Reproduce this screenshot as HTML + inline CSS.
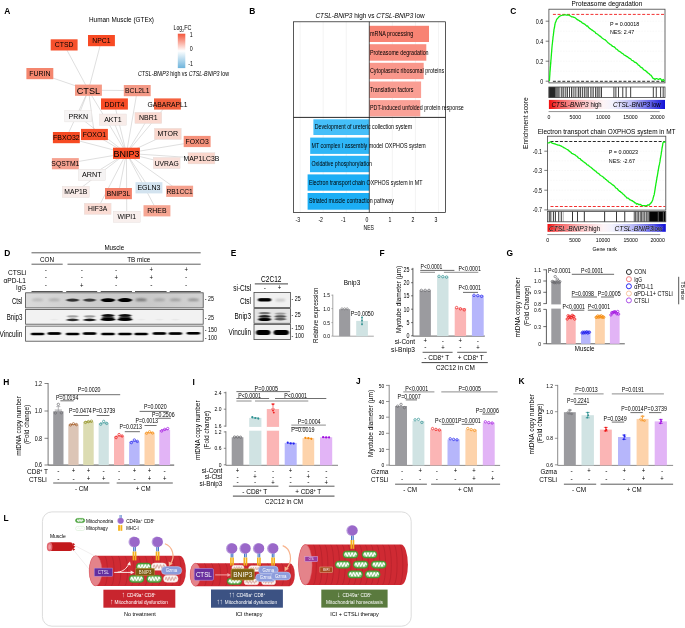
<!DOCTYPE html>
<html lang="en"><head><meta charset="utf-8"><title>CTSL-BNIP3 figure</title>
<style>
html,body{margin:0;padding:0;background:#fff;}
body{width:685px;height:628px;overflow:hidden;}
svg{display:block;font-family:"Liberation Sans",Arial,Helvetica,sans-serif;}
</style></head><body>
<svg width="685" height="628" viewBox="0 0 685 628">
<rect x="0" y="0" width="685" height="628" fill="#fff"/>
<g id="panel-A">
<text x="4.2" y="14.3" font-size="8.4" font-weight="bold" textLength="6.07" lengthAdjust="spacingAndGlyphs">A</text>
<text x="89" y="21.5" font-size="7" textLength="65" lengthAdjust="spacingAndGlyphs">Human Muscle (GTEx)</text>
<text x="173.6" y="30.2" font-size="6.5" textLength="8.6" lengthAdjust="spacingAndGlyphs">Log</text>
<text x="182.2" y="31.6" font-size="4" textLength="1.9" lengthAdjust="spacingAndGlyphs">2</text>
<text x="184.2" y="30.2" font-size="6.5" textLength="7.2" lengthAdjust="spacingAndGlyphs">FC</text>
<defs><linearGradient id="lgA" x1="0" y1="0" x2="0" y2="1"><stop offset="0" stop-color="#f4553a"/><stop offset="0.5" stop-color="#ffffff"/><stop offset="1" stop-color="#6eb4dc"/></linearGradient></defs>
<rect x="177.8" y="33.7" width="7.5" height="34.4" fill="url(#lgA)"/>
<text x="189.8" y="37" font-size="6.5" textLength="2.96" lengthAdjust="spacingAndGlyphs">1</text>
<text x="189.8" y="51" font-size="6.5" textLength="2.96" lengthAdjust="spacingAndGlyphs">0</text>
<text x="188.2" y="66.3" font-size="6.5" textLength="4.74" lengthAdjust="spacingAndGlyphs">-1</text>
<text x="138" y="76.3" font-size="6.3" textLength="91" lengthAdjust="spacingAndGlyphs"><tspan font-style="italic">CTSL-BNIP3</tspan> high vs <tspan font-style="italic">CTSL-BNIP3</tspan> low</text>
<g stroke="#bebebe" stroke-width="0.5">
<line x1="88.45" y1="90.2" x2="64.15" y2="44.9"/>
<line x1="88.45" y1="90.2" x2="101.45" y2="40.6"/>
<line x1="88.45" y1="90.2" x2="39.85" y2="73.6"/>
<line x1="88.45" y1="90.2" x2="137.25" y2="90.6"/>
<line x1="88.45" y1="90.2" x2="66.35" y2="137.6"/>
<line x1="88.45" y1="90.2" x2="94.45" y2="134.5"/>
<line x1="88.45" y1="90.2" x2="126.45" y2="153.3"/>
<line x1="88.45" y1="90.2" x2="78.25" y2="116.3"/>
<line x1="126.45" y1="153.3" x2="137.25" y2="90.6"/>
<line x1="126.45" y1="153.3" x2="114.45" y2="104"/>
<line x1="126.45" y1="153.3" x2="112.95" y2="119.6"/>
<line x1="126.45" y1="153.3" x2="148.35" y2="117.9"/>
<line x1="126.45" y1="153.3" x2="167.45" y2="104"/>
<line x1="126.45" y1="153.3" x2="167.75" y2="133.9"/>
<line x1="126.45" y1="153.3" x2="197.15" y2="141.5"/>
<line x1="126.45" y1="153.3" x2="201.45" y2="158.3"/>
<line x1="126.45" y1="153.3" x2="166.65" y2="163"/>
<line x1="126.45" y1="153.3" x2="179.65" y2="191.3"/>
<line x1="126.45" y1="153.3" x2="148.95" y2="187.8"/>
<line x1="126.45" y1="153.3" x2="156.95" y2="210.8"/>
<line x1="126.45" y1="153.3" x2="126.75" y2="216.8"/>
<line x1="126.45" y1="153.3" x2="118.45" y2="193.6"/>
<line x1="126.45" y1="153.3" x2="97.65" y2="208.8"/>
<line x1="126.45" y1="153.3" x2="91.85" y2="174.8"/>
<line x1="126.45" y1="153.3" x2="75.75" y2="191.9"/>
<line x1="126.45" y1="153.3" x2="65.35" y2="163.7"/>
<line x1="126.45" y1="153.3" x2="66.35" y2="137.6"/>
<line x1="126.45" y1="153.3" x2="94.45" y2="134.5"/>
<line x1="126.45" y1="153.3" x2="78.25" y2="116.3"/>
</g>
<rect x="50.7" y="39.3" width="26.9" height="11.2" fill="#f6512c"/>
<text x="64.15" y="47.49" font-size="7.2" text-anchor="middle" textLength="18.7" lengthAdjust="spacingAndGlyphs">CTSD</text>
<rect x="88" y="35" width="26.9" height="11.2" fill="#f84a24"/>
<text x="101.45" y="43.19" font-size="7.2" text-anchor="middle" textLength="18.2" lengthAdjust="spacingAndGlyphs">NPC1</text>
<rect x="26.4" y="68" width="26.9" height="11.2" fill="#f4866e"/>
<text x="39.85" y="76.19" font-size="7.2" text-anchor="middle" textLength="21.2" lengthAdjust="spacingAndGlyphs">FURIN</text>
<rect x="75" y="84.6" width="26.9" height="11.2" fill="#f59985"/>
<text x="88.45" y="93.66" font-size="9.6" text-anchor="middle" textLength="23.4" lengthAdjust="spacingAndGlyphs">CTSL</text>
<rect x="123.8" y="85" width="26.9" height="11.2" fill="#f49a87"/>
<text x="137.25" y="93.19" font-size="7.2" text-anchor="middle" textLength="24.5" lengthAdjust="spacingAndGlyphs">BCL2L1</text>
<rect x="101" y="98.4" width="26.9" height="11.2" fill="#f84c26"/>
<text x="114.45" y="106.59" font-size="7.2" text-anchor="middle" textLength="20" lengthAdjust="spacingAndGlyphs">DDIT4</text>
<rect x="154" y="98.4" width="26.9" height="11.2" fill="#f4623f"/>
<text x="167.45" y="106.59" font-size="7.2" text-anchor="middle" textLength="40" lengthAdjust="spacingAndGlyphs">GABARAPL1</text>
<rect x="64.8" y="110.7" width="26.9" height="11.2" fill="#f6f4f4" stroke="#e4dcda" stroke-width="0.4"/>
<text x="78.25" y="118.89" font-size="7.2" text-anchor="middle" textLength="19.4" lengthAdjust="spacingAndGlyphs">PRKN</text>
<rect x="99.5" y="114" width="26.9" height="11.2" fill="#f8ece9" stroke="#e4dcda" stroke-width="0.4"/>
<text x="112.95" y="122.19" font-size="7.2" text-anchor="middle" textLength="17.6" lengthAdjust="spacingAndGlyphs">AKT1</text>
<rect x="134.9" y="112.3" width="26.9" height="11.2" fill="#fad9d0" stroke="#e4dcda" stroke-width="0.4"/>
<text x="148.35" y="120.49" font-size="7.2" text-anchor="middle" textLength="18.6" lengthAdjust="spacingAndGlyphs">NBR1</text>
<rect x="154.3" y="128.3" width="26.9" height="11.2" fill="#f9d6cc" stroke="#e4dcda" stroke-width="0.4"/>
<text x="167.75" y="136.49" font-size="7.2" text-anchor="middle" textLength="20.6" lengthAdjust="spacingAndGlyphs">MTOR</text>
<rect x="183.7" y="135.9" width="26.9" height="11.2" fill="#f5917b"/>
<text x="197.15" y="144.09" font-size="7.2" text-anchor="middle" textLength="23.2" lengthAdjust="spacingAndGlyphs">FOXO3</text>
<rect x="81" y="128.9" width="26.9" height="11.2" fill="#f7502a"/>
<text x="94.45" y="137.09" font-size="7.2" text-anchor="middle" textLength="23.2" lengthAdjust="spacingAndGlyphs">FOXO1</text>
<rect x="52.9" y="132" width="26.9" height="11.2" fill="#f64a22"/>
<text x="66.35" y="140.19" font-size="7.2" text-anchor="middle" textLength="26.6" lengthAdjust="spacingAndGlyphs">FBXO32</text>
<rect x="113" y="147.7" width="26.9" height="11.2" fill="#f84e28"/>
<text x="126.45" y="156.76" font-size="9.6" text-anchor="middle" textLength="26" lengthAdjust="spacingAndGlyphs">BNIP3</text>
<rect x="51.9" y="158.1" width="26.9" height="11.2" fill="#f5a190"/>
<text x="65.35" y="166.29" font-size="7.2" text-anchor="middle" textLength="28" lengthAdjust="spacingAndGlyphs">SQSTM1</text>
<rect x="153.2" y="157.4" width="26.9" height="11.2" fill="#f9e0da" stroke="#e4dcda" stroke-width="0.4"/>
<text x="166.65" y="165.59" font-size="7.2" text-anchor="middle" textLength="24" lengthAdjust="spacingAndGlyphs">UVRAG</text>
<rect x="188" y="152.7" width="26.9" height="11.2" fill="#fad7cd" stroke="#e4dcda" stroke-width="0.4"/>
<text x="201.45" y="160.89" font-size="7.2" text-anchor="middle" textLength="35.8" lengthAdjust="spacingAndGlyphs">MAP1LC3B</text>
<rect x="78.4" y="169.2" width="26.9" height="11.2" fill="#f5f3f3" stroke="#e4dcda" stroke-width="0.4"/>
<text x="91.85" y="177.39" font-size="7.2" text-anchor="middle" textLength="19.6" lengthAdjust="spacingAndGlyphs">ARNT</text>
<rect x="62.3" y="186.3" width="26.9" height="11.2" fill="#f8ebe8" stroke="#e4dcda" stroke-width="0.4"/>
<text x="75.75" y="194.49" font-size="7.2" text-anchor="middle" textLength="23" lengthAdjust="spacingAndGlyphs">MAP1B</text>
<rect x="105" y="188" width="26.9" height="11.2" fill="#f3816b"/>
<text x="118.45" y="196.19" font-size="7.2" text-anchor="middle" textLength="23.6" lengthAdjust="spacingAndGlyphs">BNIP3L</text>
<rect x="135.5" y="182.2" width="26.9" height="11.2" fill="#d3e3ef"/>
<text x="148.95" y="190.39" font-size="7.2" text-anchor="middle" textLength="23" lengthAdjust="spacingAndGlyphs">EGLN3</text>
<rect x="166.2" y="185.7" width="26.9" height="11.2" fill="#f5a18e"/>
<text x="179.65" y="193.89" font-size="7.2" text-anchor="middle" textLength="26.4" lengthAdjust="spacingAndGlyphs">RB1CC1</text>
<rect x="84.2" y="203.2" width="26.9" height="11.2" fill="#fadcd4" stroke="#e4dcda" stroke-width="0.4"/>
<text x="97.65" y="211.39" font-size="7.2" text-anchor="middle" textLength="19.2" lengthAdjust="spacingAndGlyphs">HIF3A</text>
<rect x="143.5" y="205.2" width="26.9" height="11.2" fill="#f6a693"/>
<text x="156.95" y="213.39" font-size="7.2" text-anchor="middle" textLength="19.2" lengthAdjust="spacingAndGlyphs">RHEB</text>
<rect x="113.3" y="211.2" width="26.9" height="11.2" fill="#f8efed" stroke="#e4dcda" stroke-width="0.4"/>
<text x="126.75" y="219.39" font-size="7.2" text-anchor="middle" textLength="18.6" lengthAdjust="spacingAndGlyphs">WIPI1</text>
</g>
<g id="panel-B">
<text x="249.3" y="14.1" font-size="8.4" font-weight="bold" textLength="6.07" lengthAdjust="spacingAndGlyphs">B</text>
<text x="315.4" y="17.7" font-size="7.5" textLength="109.2" lengthAdjust="spacingAndGlyphs"><tspan font-style="italic">CTSL-BNIP3</tspan> high vs <tspan font-style="italic">CTSL-BNIP3</tspan> low</text>
<line x1="300.15" y1="21.8" x2="300.15" y2="212.5" stroke="#e6e6e6" stroke-width="0.5"/>
<line x1="323.2" y1="21.8" x2="323.2" y2="212.5" stroke="#e6e6e6" stroke-width="0.5"/>
<line x1="346.25" y1="21.8" x2="346.25" y2="212.5" stroke="#e6e6e6" stroke-width="0.5"/>
<line x1="392.35" y1="21.8" x2="392.35" y2="212.5" stroke="#e6e6e6" stroke-width="0.5"/>
<line x1="415.4" y1="21.8" x2="415.4" y2="212.5" stroke="#e6e6e6" stroke-width="0.5"/>
<line x1="438.45" y1="21.8" x2="438.45" y2="212.5" stroke="#e6e6e6" stroke-width="0.5"/>
<rect x="369.3" y="25.8" width="59.7" height="16.2" fill="#f88373"/>
<text x="370" y="36" font-size="6.3" textLength="43.2" lengthAdjust="spacingAndGlyphs">mRNA processing</text>
<rect x="369.3" y="44.2" width="57" height="16.5" fill="#f98e80"/>
<text x="370" y="54.55" font-size="6.3" textLength="58.6" lengthAdjust="spacingAndGlyphs">Proteasome degradation</text>
<rect x="369.3" y="62.8" width="54.4" height="16.3" fill="#f9978b"/>
<text x="370" y="73.05" font-size="6.3" textLength="74.2" lengthAdjust="spacingAndGlyphs">Cytoplasmic ribosomal proteins</text>
<rect x="369.3" y="81.5" width="51.8" height="16.5" fill="#fa9e93"/>
<text x="370" y="91.85" font-size="6.3" textLength="43.4" lengthAdjust="spacingAndGlyphs">Translation factors</text>
<rect x="369.3" y="100.1" width="51" height="16.3" fill="#faa197"/>
<text x="370" y="110.35" font-size="6.3" textLength="93.8" lengthAdjust="spacingAndGlyphs">PDT-induced unfolded protein response</text>
<rect x="313.4" y="119.3" width="55.9" height="15.7" fill="#45bff9"/>
<text x="314.7" y="129.25" font-size="6.3" textLength="97.5" lengthAdjust="spacingAndGlyphs">Development of ureteric collection system</text>
<rect x="310.2" y="137.6" width="59.1" height="16.3" fill="#2fb6f7"/>
<text x="311.5" y="147.85" font-size="6.3" textLength="114.3" lengthAdjust="spacingAndGlyphs">MT complex I assembly model OXPHOS system</text>
<rect x="310" y="155.8" width="59.3" height="16.4" fill="#2bb4f7"/>
<text x="311.5" y="166.1" font-size="6.3" textLength="60.5" lengthAdjust="spacingAndGlyphs">Oxidative phosphorylation</text>
<rect x="307.6" y="174.4" width="61.7" height="16.3" fill="#1caef5"/>
<text x="308.9" y="184.65" font-size="6.3" textLength="113.5" lengthAdjust="spacingAndGlyphs">Electron transport chain OXPHOS system in MT</text>
<rect x="307.6" y="193" width="61.7" height="16.7" fill="#1caef5"/>
<text x="308.9" y="203.45" font-size="6.3" textLength="84.9" lengthAdjust="spacingAndGlyphs">Striated muscle contraction pathway</text>
<rect x="293.6" y="21.8" width="152" height="190.7" fill="none" stroke="#111" stroke-width="0.7"/>
<line x1="293.6" y1="117.4" x2="445.6" y2="117.4" stroke="#111" stroke-width="0.9"/>
<line x1="369.3" y1="21.8" x2="369.3" y2="212.5" stroke="#111" stroke-width="0.7"/>
<text x="297.9" y="222.3" font-size="6.3" text-anchor="middle" textLength="4.59" lengthAdjust="spacingAndGlyphs">-3</text>
<text x="320.7" y="222.3" font-size="6.3" text-anchor="middle" textLength="4.59" lengthAdjust="spacingAndGlyphs">-2</text>
<text x="343.4" y="222.3" font-size="6.3" text-anchor="middle" textLength="4.59" lengthAdjust="spacingAndGlyphs">-1</text>
<text x="367" y="222.3" font-size="6.3" text-anchor="middle" textLength="2.87" lengthAdjust="spacingAndGlyphs">0</text>
<text x="389.9" y="222.3" font-size="6.3" text-anchor="middle" textLength="2.87" lengthAdjust="spacingAndGlyphs">1</text>
<text x="413" y="222.3" font-size="6.3" text-anchor="middle" textLength="2.87" lengthAdjust="spacingAndGlyphs">2</text>
<text x="435.9" y="222.3" font-size="6.3" text-anchor="middle" textLength="2.87" lengthAdjust="spacingAndGlyphs">3</text>
<text x="368.8" y="230.2" font-size="6.3" text-anchor="middle" textLength="10.4" lengthAdjust="spacingAndGlyphs">NES</text>
</g>
<g id="panel-C">
<text x="510.2" y="14" font-size="8.4" font-weight="bold" textLength="6.07" lengthAdjust="spacingAndGlyphs">C</text>
<defs><linearGradient id="lgC" x1="0" y1="0" x2="1" y2="0"><stop offset="0" stop-color="#f00f0f"/><stop offset="0.1" stop-color="#f46060"/><stop offset="0.3" stop-color="#fbc4c6"/><stop offset="0.47" stop-color="#fdf4f6"/><stop offset="0.55" stop-color="#f2f2fd"/><stop offset="0.72" stop-color="#b9b9f6"/><stop offset="0.9" stop-color="#5252e6"/><stop offset="1" stop-color="#1010d6"/></linearGradient></defs>
<text x="571.6" y="5.6" font-size="6.6" textLength="70.7" lengthAdjust="spacingAndGlyphs">Proteasome degradation</text>
<line x1="548.9" y1="21.2" x2="665" y2="21.2" stroke="#f0f0f0" stroke-width="0.5" stroke-dasharray="1.6 1.2"/>
<line x1="548.9" y1="31.2" x2="665" y2="31.2" stroke="#f0f0f0" stroke-width="0.5" stroke-dasharray="1.6 1.2"/>
<line x1="548.9" y1="41.2" x2="665" y2="41.2" stroke="#f0f0f0" stroke-width="0.5" stroke-dasharray="1.6 1.2"/>
<line x1="548.9" y1="51.2" x2="665" y2="51.2" stroke="#f0f0f0" stroke-width="0.5" stroke-dasharray="1.6 1.2"/>
<line x1="548.9" y1="61.2" x2="665" y2="61.2" stroke="#f0f0f0" stroke-width="0.5" stroke-dasharray="1.6 1.2"/>
<line x1="548.9" y1="71.2" x2="665" y2="71.2" stroke="#f0f0f0" stroke-width="0.5" stroke-dasharray="1.6 1.2"/>
<line x1="552.9" y1="14.4" x2="664.5" y2="14.4" stroke="#f01818" stroke-width="0.9" stroke-dasharray="3 1.7"/>
<line x1="552.9" y1="81.3" x2="664.5" y2="81.3" stroke="#111" stroke-width="0.9" stroke-dasharray="3 1.7"/>
<rect x="548.9" y="9.2" width="116.1" height="73.7" fill="none" stroke="#444" stroke-width="0.8"/>
<line x1="545.7" y1="21.2" x2="548.9" y2="21.2" stroke="#444" stroke-width="0.7"/>
<text x="543.3" y="23.5" font-size="6.4" text-anchor="end" textLength="7.47" lengthAdjust="spacingAndGlyphs">0.6</text>
<line x1="545.7" y1="41.2" x2="548.9" y2="41.2" stroke="#444" stroke-width="0.7"/>
<text x="543.3" y="43.5" font-size="6.4" text-anchor="end" textLength="7.47" lengthAdjust="spacingAndGlyphs">0.4</text>
<line x1="545.7" y1="61.2" x2="548.9" y2="61.2" stroke="#444" stroke-width="0.7"/>
<text x="543.3" y="63.5" font-size="6.4" text-anchor="end" textLength="7.47" lengthAdjust="spacingAndGlyphs">0.2</text>
<line x1="545.7" y1="81.2" x2="548.9" y2="81.2" stroke="#444" stroke-width="0.7"/>
<text x="543.3" y="83.5" font-size="6.4" text-anchor="end" textLength="2.99" lengthAdjust="spacingAndGlyphs">0</text>
<path d="M549.4 80.71 L549.47 80.28 L549.53 79.21 L549.6 77.8 L549.67 77 L549.73 75.96 L549.8 75.12 L549.87 74.23 L549.93 72.68 L550 71.62 L550.08 71.22 L550.17 69.85 L550.25 69.07 L550.34 67.42 L550.42 66.73 L550.51 65.9 L550.59 64.46 L550.68 63.99 L550.76 62.91 L550.85 61.16 L550.93 60.11 L551.02 59.48 L551.1 58.75 L551.18 57.27 L551.26 56.1 L551.35 55.23 L551.43 53.88 L551.51 53 L551.59 52.13 L551.67 51.14 L551.75 49.9 L551.84 48.86 L551.92 47.81 L552 46.97 L552.11 45.77 L552.23 44.49 L552.34 44.08 L552.45 42.8 L552.56 41.8 L552.67 40.37 L552.79 39.96 L552.9 38.79 L553.02 37.2 L553.14 36.37 L553.27 35.68 L553.39 34.67 L553.51 33.85 L553.63 32.44 L553.76 31.76 L553.88 30.64 L554 29.34 L554.2 28.55 L554.4 27.77 L554.6 26.73 L554.8 25.44 L555 24.49 L555.2 23.03 L555.57 22.19 L555.93 21.64 L556.3 20.33 L556.9 19.14 L557.5 18.44 L558.25 17.66 L559 16.74 L560.4 15.8 L561.45 15.5 L562.5 15.21 L563.5 15.22 L564.5 14.82 L565.5 14.85 L566.5 15.06 L567.5 14.82 L568.95 15.18 L570.4 16.06 L571.6 16.79 L572.8 16.97 L574 17.31 L575.13 17.77 L576.27 18.67 L577.4 19.69 L578.25 20.1 L579.09 20.5 L579.94 21.33 L580.78 21.41 L581.63 22.22 L582.47 23.15 L583.32 23.43 L584.16 23.92 L585.01 24.35 L585.85 25.16 L586.7 26.07 L587.54 25.97 L588.37 27.26 L589.21 27.95 L590.04 28.67 L590.88 29.21 L591.71 29.93 L592.55 30.36 L593.39 31.06 L594.22 31.62 L595.06 31.99 L595.89 33.3 L596.73 33.73 L597.56 34.1 L598.4 35 L599.2 35.6 L600 36.12 L600.8 36.73 L601.6 37.5 L602.4 38.18 L603.2 38.79 L604 39.28 L604.8 39.56 L605.6 40.33 L606.4 40.91 L607.2 41.85 L608 42.69 L608.8 43.28 L609.6 43.92 L610.4 44.57 L611.2 44.76 L612 45.87 L612.8 46.38 L613.6 46.55 L614.4 47.13 L615.2 47.77 L616 49 L616.8 49.24 L617.6 49.77 L618.4 50.82 L619.2 51.24 L620 51.66 L620.83 52.29 L621.67 53.16 L622.5 53.43 L623.33 54.08 L624.17 55 L625 55.36 L625.83 55.82 L626.67 56.51 L627.5 56.72 L628.33 57.58 L629.17 58.17 L630 58.55 L630.83 59.05 L631.67 60.25 L632.5 60.51 L633.33 60.83 L634.17 61.72 L635 62.45 L635.83 62.5 L636.67 63.18 L637.5 63.97 L638.33 65.11 L639.17 65.34 L640 66.46 L640.83 67.13 L641.67 67.7 L642.5 68.13 L643.33 69.41 L644.17 69.95 L645 70.41 L645.83 70.88 L646.67 71.92 L647.5 72.42 L648.33 73.26 L649.17 73.76 L650 74.7 L650.85 75.15 L651.7 76.24 L652.55 77.67 L653.4 78.5 L654.2 78.65 L655 79.69 L655.9 78.65 L656.8 78.55 L657.6 79 L658.4 79.33 L660.2 78.6 L661 79.21 L661.8 80.7 L663.2 79.43 L664.4 80.9" fill="none" stroke="#10ee10" stroke-width="1.3" stroke-linejoin="round" stroke-linecap="round"/>
<text x="610" y="25.5" font-size="6" textLength="29.2" lengthAdjust="spacingAndGlyphs">P = 0.00018</text>
<text x="610" y="33.6" font-size="6" textLength="24.2" lengthAdjust="spacingAndGlyphs">NES: 2.47</text>
<g stroke="#000"><line x1="549.2" y1="87" x2="549.2" y2="97.6" stroke-width="0.6" opacity="1"/><line x1="549.6" y1="87" x2="549.6" y2="97.6" stroke-width="0.6" opacity="1"/><line x1="550" y1="87" x2="550" y2="97.6" stroke-width="0.6" opacity="1"/><line x1="550.4" y1="87" x2="550.4" y2="97.6" stroke-width="0.6" opacity="1"/><line x1="550.8" y1="87" x2="550.8" y2="97.6" stroke-width="0.6" opacity="1"/><line x1="551.2" y1="87" x2="551.2" y2="97.6" stroke-width="0.6" opacity="1"/><line x1="551.6" y1="87" x2="551.6" y2="97.6" stroke-width="0.6" opacity="1"/><line x1="552" y1="87" x2="552" y2="97.6" stroke-width="0.6" opacity="1"/><line x1="552.4" y1="87" x2="552.4" y2="97.6" stroke-width="0.6" opacity="1"/><line x1="552.8" y1="87" x2="552.8" y2="97.6" stroke-width="0.6" opacity="1"/><line x1="553.2" y1="87" x2="553.2" y2="97.6" stroke-width="0.6" opacity="1"/><line x1="553.6" y1="87" x2="553.6" y2="97.6" stroke-width="0.6" opacity="1"/><line x1="554" y1="87" x2="554" y2="97.6" stroke-width="0.6" opacity="1"/><line x1="554.4" y1="87" x2="554.4" y2="97.6" stroke-width="0.6" opacity="1"/><line x1="554.8" y1="87" x2="554.8" y2="97.6" stroke-width="0.6" opacity="1"/><line x1="555.2" y1="87" x2="555.2" y2="97.6" stroke-width="0.55" opacity="0.9"/><line x1="555.9" y1="87" x2="555.9" y2="97.6" stroke-width="0.55" opacity="0.9"/><line x1="556.6" y1="87" x2="556.6" y2="97.6" stroke-width="0.55" opacity="0.9"/><line x1="557.3" y1="87" x2="557.3" y2="97.6" stroke-width="0.55" opacity="0.9"/><line x1="558" y1="87" x2="558" y2="97.6" stroke-width="0.55" opacity="0.9"/><line x1="558.7" y1="87" x2="558.7" y2="97.6" stroke-width="0.55" opacity="0.9"/><line x1="559.4" y1="87" x2="559.4" y2="97.6" stroke-width="0.55" opacity="0.9"/><line x1="561.28" y1="87" x2="561.28" y2="97.6" stroke-width="0.8" opacity="0.95"/><line x1="563.26" y1="87" x2="563.26" y2="97.6" stroke-width="0.8" opacity="0.95"/><line x1="565.23" y1="87" x2="565.23" y2="97.6" stroke-width="0.8" opacity="0.95"/><line x1="567.59" y1="87" x2="567.59" y2="97.6" stroke-width="0.8" opacity="0.95"/><line x1="569.56" y1="87" x2="569.56" y2="97.6" stroke-width="0.8" opacity="0.95"/><line x1="571.53" y1="87" x2="571.53" y2="97.6" stroke-width="0.8" opacity="0.95"/><line x1="573.9" y1="87" x2="573.9" y2="97.6" stroke-width="0.8" opacity="0.95"/><line x1="575.87" y1="87" x2="575.87" y2="97.6" stroke-width="0.8" opacity="0.95"/><line x1="578.43" y1="87" x2="578.43" y2="97.6" stroke-width="0.8" opacity="0.95"/><line x1="580.4" y1="87" x2="580.4" y2="97.6" stroke-width="0.8" opacity="0.95"/><line x1="582.37" y1="87" x2="582.37" y2="97.6" stroke-width="0.8" opacity="0.95"/><line x1="584.34" y1="87" x2="584.34" y2="97.6" stroke-width="0.8" opacity="0.95"/><line x1="586.91" y1="87" x2="586.91" y2="97.6" stroke-width="0.8" opacity="0.95"/><line x1="588.29" y1="87" x2="588.29" y2="97.6" stroke-width="0.8" opacity="0.95"/><line x1="590.85" y1="87" x2="590.85" y2="97.6" stroke-width="0.8" opacity="0.95"/><line x1="593.21" y1="87" x2="593.21" y2="97.6" stroke-width="0.8" opacity="0.95"/><line x1="595.58" y1="87" x2="595.58" y2="97.6" stroke-width="0.8" opacity="0.95"/><line x1="597.15" y1="87" x2="597.15" y2="97.6" stroke-width="0.8" opacity="0.95"/><line x1="599.12" y1="87" x2="599.12" y2="97.6" stroke-width="0.8" opacity="0.95"/><line x1="601.49" y1="87" x2="601.49" y2="97.6" stroke-width="0.8" opacity="0.95"/><line x1="613.91" y1="87" x2="613.91" y2="97.6" stroke-width="0.8" opacity="0.95"/><line x1="615.88" y1="87" x2="615.88" y2="97.6" stroke-width="0.8" opacity="0.95"/><line x1="618.44" y1="87" x2="618.44" y2="97.6" stroke-width="0.8" opacity="0.95"/><line x1="622.77" y1="87" x2="622.77" y2="97.6" stroke-width="0.8" opacity="0.95"/><line x1="626.13" y1="87" x2="626.13" y2="97.6" stroke-width="0.8" opacity="0.95"/><line x1="630.66" y1="87" x2="630.66" y2="97.6" stroke-width="0.8" opacity="0.95"/><line x1="653.32" y1="87" x2="653.32" y2="97.6" stroke-width="0.8" opacity="0.95"/><line x1="656.28" y1="87" x2="656.28" y2="97.6" stroke-width="0.8" opacity="0.95"/><line x1="660.61" y1="87" x2="660.61" y2="97.6" stroke-width="0.8" opacity="0.95"/><line x1="663.18" y1="87" x2="663.18" y2="97.6" stroke-width="0.8" opacity="0.95"/><line x1="562.27" y1="87" x2="562.27" y2="97.6" stroke-width="0.5" opacity="0.6"/><line x1="566.41" y1="87" x2="566.41" y2="97.6" stroke-width="0.5" opacity="0.6"/><line x1="572.72" y1="87" x2="572.72" y2="97.6" stroke-width="0.5" opacity="0.6"/><line x1="577.25" y1="87" x2="577.25" y2="97.6" stroke-width="0.5" opacity="0.6"/><line x1="579.42" y1="87" x2="579.42" y2="97.6" stroke-width="0.5" opacity="0.6"/><line x1="585.53" y1="87" x2="585.53" y2="97.6" stroke-width="0.5" opacity="0.6"/><line x1="592.03" y1="87" x2="592.03" y2="97.6" stroke-width="0.5" opacity="0.6"/><line x1="598.14" y1="87" x2="598.14" y2="97.6" stroke-width="0.5" opacity="0.6"/><line x1="600.31" y1="87" x2="600.31" y2="97.6" stroke-width="0.5" opacity="0.6"/></g>
<rect x="548.9" y="87" width="116.1" height="10.6" fill="none" stroke="#444" stroke-width="0.8"/>
<rect x="548.9" y="99.9" width="116.1" height="9.1" fill="url(#lgC)"/>
<text x="551.4" y="107.2" font-size="7.2" font-style="italic" textLength="37.2" lengthAdjust="spacingAndGlyphs">CTSL-BNIP3</text>
<text x="590.4" y="107.2" font-size="7.2" textLength="11.2" lengthAdjust="spacingAndGlyphs">high</text>
<text x="612.9" y="107.2" font-size="7.2" font-style="italic" textLength="37.2" lengthAdjust="spacingAndGlyphs">CTSL-BNIP3</text>
<text x="651.6" y="107.2" font-size="7.2" textLength="9" lengthAdjust="spacingAndGlyphs">low</text>
<line x1="548.6" y1="111.6" x2="659.7" y2="111.6" stroke="#444" stroke-width="0.6"/>
<text x="548.9" y="118.7" font-size="6" text-anchor="middle" textLength="2.87" lengthAdjust="spacingAndGlyphs">0</text>
<text x="575.3" y="118.7" font-size="6" text-anchor="middle" textLength="11.48" lengthAdjust="spacingAndGlyphs">5000</text>
<text x="603.2" y="118.7" font-size="6" text-anchor="middle" textLength="14.35" lengthAdjust="spacingAndGlyphs">10000</text>
<text x="630.4" y="118.7" font-size="6" text-anchor="middle" textLength="14.35" lengthAdjust="spacingAndGlyphs">15000</text>
<text x="657.4" y="118.7" font-size="6" text-anchor="middle" textLength="14.35" lengthAdjust="spacingAndGlyphs">20000</text>
<text x="527.9" y="123.2" font-size="6.5" text-anchor="middle" transform="rotate(-90 527.9 123.2)" textLength="51.6" lengthAdjust="spacingAndGlyphs">Enrichment score</text>
<text x="537.8" y="134.4" font-size="6.6" textLength="137.7" lengthAdjust="spacingAndGlyphs">Electron transport chain OXPHOS system in MT</text>
<line x1="547.5" y1="151.2" x2="665.8" y2="151.2" stroke="#f0f0f0" stroke-width="0.5" stroke-dasharray="1.6 1.2"/>
<line x1="547.5" y1="160.8" x2="665.8" y2="160.8" stroke="#f0f0f0" stroke-width="0.5" stroke-dasharray="1.6 1.2"/>
<line x1="547.5" y1="170.5" x2="665.8" y2="170.5" stroke="#f0f0f0" stroke-width="0.5" stroke-dasharray="1.6 1.2"/>
<line x1="547.5" y1="180.3" x2="665.8" y2="180.3" stroke="#f0f0f0" stroke-width="0.5" stroke-dasharray="1.6 1.2"/>
<line x1="547.5" y1="190.2" x2="665.8" y2="190.2" stroke="#f0f0f0" stroke-width="0.5" stroke-dasharray="1.6 1.2"/>
<line x1="547.5" y1="200" x2="665.8" y2="200" stroke="#f0f0f0" stroke-width="0.5" stroke-dasharray="1.6 1.2"/>
<line x1="550.5" y1="141.5" x2="665.3" y2="141.5" stroke="#111" stroke-width="0.9" stroke-dasharray="3 1.7"/>
<line x1="550.5" y1="206.5" x2="665.3" y2="206.5" stroke="#f01818" stroke-width="0.9" stroke-dasharray="3 1.7"/>
<rect x="547.5" y="136.2" width="118.3" height="73.9" fill="none" stroke="#444" stroke-width="0.8"/>
<line x1="544.3" y1="151.2" x2="547.5" y2="151.2" stroke="#444" stroke-width="0.7"/>
<text x="541.9" y="153.5" font-size="6.4" text-anchor="end" textLength="9.26" lengthAdjust="spacingAndGlyphs">-0.1</text>
<line x1="544.3" y1="170.4" x2="547.5" y2="170.4" stroke="#444" stroke-width="0.7"/>
<text x="541.9" y="172.7" font-size="6.4" text-anchor="end" textLength="9.26" lengthAdjust="spacingAndGlyphs">-0.3</text>
<line x1="544.3" y1="190.2" x2="547.5" y2="190.2" stroke="#444" stroke-width="0.7"/>
<text x="541.9" y="192.5" font-size="6.4" text-anchor="end" textLength="9.26" lengthAdjust="spacingAndGlyphs">-0.5</text>
<line x1="544.3" y1="209.9" x2="547.5" y2="209.9" stroke="#444" stroke-width="0.7"/>
<text x="541.9" y="212.2" font-size="6.4" text-anchor="end" textLength="9.26" lengthAdjust="spacingAndGlyphs">-0.7</text>
<path d="M548 142.96 L549 142.89 L550 142.11 L551 142.07 L552 143.07 L553 143.39 L554 143.74 L555 143.8 L556 144.38 L557 144.74 L558 145.06 L559.1 145.13 L560.2 145.74 L561.3 146.11 L562.4 146.78 L563.5 147.4 L564.31 147.96 L565.12 148.24 L565.94 148.76 L566.75 149.21 L567.56 149.63 L568.38 150.22 L569.19 151.17 L570 151.65 L570.85 152.28 L571.7 153.27 L572.55 153.56 L573.4 154.17 L574.25 154.49 L575.1 154.9 L575.95 155.72 L576.8 156.15 L577.65 157.03 L578.5 158 L579.32 158.38 L580.14 158.63 L580.96 159.84 L581.79 160.41 L582.61 161 L583.43 161.78 L584.25 162.31 L585.07 162.97 L585.89 163.27 L586.71 164.41 L587.54 165.04 L588.36 165.04 L589.18 166.16 L590 166.77 L590.83 167.24 L591.67 167.97 L592.5 168.62 L593.33 169.64 L594.17 169.98 L595 170.92 L595.83 171.21 L596.67 172.31 L597.5 172.99 L598.33 173.32 L599.17 174.08 L600 175.04 L600.79 175.51 L601.59 175.96 L602.38 176.38 L603.18 177.1 L603.97 178.04 L604.76 178.24 L605.56 179.47 L606.35 179.6 L607.15 180.75 L607.94 180.9 L608.74 182.05 L609.53 182.49 L610.32 182.96 L611.12 183.61 L611.91 184.35 L612.71 184.94 L613.5 185.35 L614.25 185.94 L615 186.87 L615.75 187.88 L616.5 188.31 L617.25 188.55 L618 189.82 L618.75 190.43 L619.5 191.25 L620.25 191.35 L621 192.47 L621.75 192.6 L622.5 193.76 L623.25 194.13 L624 194.77 L624.75 195.97 L625.5 196.03 L626.25 197.04 L627 197.98 L627.86 198.04 L628.73 198.56 L629.59 199.64 L630.45 199.82 L631.32 200.6 L632.18 200.6 L633.05 201.41 L633.91 201.8 L634.77 202.75 L635.64 202.82 L636.5 204.06 L637.67 203.69 L638.83 204.62 L640 204.42 L641.1 204.94 L642.2 205.72 L643.3 205.53 L644.43 205.55 L645.57 205.95 L646.7 205.71 L647.95 204.83 L649.2 204.99 L650.3 203.52 L651.4 202.63 L651.87 201.71 L652.33 200.76 L652.8 199.69 L653.12 198.07 L653.45 197.12 L653.77 195.75 L654.1 194.96 L654.27 194.19 L654.44 193.15 L654.61 192.27 L654.77 191.13 L654.94 190.2 L655.11 189.05 L655.28 187.85 L655.45 186.63 L655.62 185.96 L655.79 184.67 L655.96 183.48 L656.12 182.73 L656.29 182.06 L656.46 180.44 L656.63 179.79 L656.8 178.61 L656.98 177.72 L657.16 176.43 L657.34 176.08 L657.52 174.53 L657.69 173.81 L657.87 172.67 L658.05 171.35 L658.23 170.79 L658.41 169.46 L658.59 168.4 L658.77 167.38 L658.95 166.49 L659.13 165.45 L659.31 164.88 L659.48 163.79 L659.66 163.17 L659.84 162.14 L660.02 161.19 L660.2 159.59 L660.37 158.74 L660.54 157.56 L660.71 156.82 L660.88 155.82 L661.04 154.95 L661.21 153.86 L661.38 152.47 L661.55 151.59 L661.72 150.65 L661.89 149.22 L662.06 148.22 L662.23 147.5 L662.39 146.25 L662.56 145.72 L662.73 144.31 L662.9 143.18 L663.6 141.95 L665.2 142.2" fill="none" stroke="#10ee10" stroke-width="1.3" stroke-linejoin="round" stroke-linecap="round"/>
<text x="608.8" y="153.8" font-size="6" textLength="29.2" lengthAdjust="spacingAndGlyphs">P = 0.00023</text>
<text x="608.8" y="162.9" font-size="6" textLength="26.2" lengthAdjust="spacingAndGlyphs">NES: -2.67</text>
<g stroke="#000"><line x1="549.26" y1="211.4" x2="549.26" y2="221.8" stroke-width="0.85" opacity="0.95"/><line x1="550.84" y1="211.4" x2="550.84" y2="221.8" stroke-width="0.85" opacity="0.95"/><line x1="553.4" y1="211.4" x2="553.4" y2="221.8" stroke-width="0.85" opacity="0.95"/><line x1="555.37" y1="211.4" x2="555.37" y2="221.8" stroke-width="0.85" opacity="0.95"/><line x1="558.72" y1="211.4" x2="558.72" y2="221.8" stroke-width="0.85" opacity="0.95"/><line x1="561.28" y1="211.4" x2="561.28" y2="221.8" stroke-width="0.85" opacity="0.95"/><line x1="572.52" y1="211.4" x2="572.52" y2="221.8" stroke-width="0.85" opacity="0.95"/><line x1="577.45" y1="211.4" x2="577.45" y2="221.8" stroke-width="0.85" opacity="0.95"/><line x1="584.34" y1="211.4" x2="584.34" y2="221.8" stroke-width="0.85" opacity="0.95"/><line x1="604.64" y1="211.4" x2="604.64" y2="221.8" stroke-width="0.85" opacity="0.95"/><line x1="616.47" y1="211.4" x2="616.47" y2="221.8" stroke-width="0.85" opacity="0.95"/><line x1="624.75" y1="211.4" x2="624.75" y2="221.8" stroke-width="0.85" opacity="0.95"/><line x1="563.26" y1="211.4" x2="563.26" y2="221.8" stroke-width="0.6" opacity="0.5"/><line x1="634.21" y1="211.4" x2="634.21" y2="221.8" stroke-width="0.8" opacity="0.75"/><line x1="635.59" y1="211.4" x2="635.59" y2="221.8" stroke-width="0.8" opacity="0.75"/><line x1="636.96" y1="211.4" x2="636.96" y2="221.8" stroke-width="0.8" opacity="0.75"/><line x1="638.54" y1="211.4" x2="638.54" y2="221.8" stroke-width="0.8" opacity="0.75"/><line x1="640.12" y1="211.4" x2="640.12" y2="221.8" stroke-width="0.8" opacity="0.75"/><line x1="641.5" y1="211.4" x2="641.5" y2="221.8" stroke-width="0.8" opacity="0.75"/><line x1="642.88" y1="211.4" x2="642.88" y2="221.8" stroke-width="0.8" opacity="0.75"/><line x1="644.45" y1="211.4" x2="644.45" y2="221.8" stroke-width="0.8" opacity="0.75"/><line x1="646.42" y1="211.4" x2="646.42" y2="221.8" stroke-width="0.8" opacity="0.75"/><line x1="648" y1="211.4" x2="648" y2="221.8" stroke-width="0.8" opacity="0.75"/><line x1="634.99" y1="211.4" x2="634.99" y2="221.8" stroke-width="0.6" opacity="0.5"/><line x1="637.75" y1="211.4" x2="637.75" y2="221.8" stroke-width="0.6" opacity="0.5"/><line x1="640.71" y1="211.4" x2="640.71" y2="221.8" stroke-width="0.6" opacity="0.5"/><line x1="643.67" y1="211.4" x2="643.67" y2="221.8" stroke-width="0.6" opacity="0.5"/><line x1="645.44" y1="211.4" x2="645.44" y2="221.8" stroke-width="0.6" opacity="0.5"/><line x1="647.21" y1="211.4" x2="647.21" y2="221.8" stroke-width="0.6" opacity="0.5"/><line x1="648.59" y1="211.4" x2="648.59" y2="221.8" stroke-width="0.6" opacity="0.5"/></g>
<rect x="649.18" y="211.4" width="16.42" height="10.4" fill="#050505"/>
<line x1="658.25" y1="211.4" x2="658.25" y2="221.8" stroke="#fff" stroke-width="0.35"/>
<line x1="663.37" y1="211.4" x2="663.37" y2="221.8" stroke="#fff" stroke-width="0.35"/>
<rect x="547.5" y="211.4" width="118.3" height="10.4" fill="none" stroke="#444" stroke-width="0.8"/>
<rect x="547.5" y="224" width="118.3" height="7.8" fill="url(#lgC)"/>
<text stroke="#fff" stroke-width="0.5" stroke-opacity="0.55" paint-order="stroke" x="548.9" y="231" font-size="7.8" font-style="italic" textLength="38.6" lengthAdjust="spacingAndGlyphs">CTSL-BNIP3</text>
<text x="588.6" y="231" font-size="7.8" textLength="11.4" lengthAdjust="spacingAndGlyphs">high</text>
<text stroke="#fff" stroke-width="0.5" stroke-opacity="0.55" paint-order="stroke" x="614.5" y="231" font-size="7.8" font-style="italic" textLength="38.6" lengthAdjust="spacingAndGlyphs">CTSL-BNIP3</text>
<text stroke="#fff" stroke-width="0.5" stroke-opacity="0.55" paint-order="stroke" x="653.2" y="231" font-size="7.8" textLength="9.2" lengthAdjust="spacingAndGlyphs">low</text>
<line x1="547.3" y1="234.6" x2="660.2" y2="234.6" stroke="#444" stroke-width="0.6"/>
<text x="547.8" y="242.3" font-size="6" text-anchor="middle" textLength="2.87" lengthAdjust="spacingAndGlyphs">0</text>
<text x="575" y="242.3" font-size="6" text-anchor="middle" textLength="11.48" lengthAdjust="spacingAndGlyphs">5000</text>
<text x="603" y="242.3" font-size="6" text-anchor="middle" textLength="14.35" lengthAdjust="spacingAndGlyphs">10000</text>
<text x="630.6" y="242.3" font-size="6" text-anchor="middle" textLength="14.35" lengthAdjust="spacingAndGlyphs">15000</text>
<text x="657.6" y="242.3" font-size="6" text-anchor="middle" textLength="14.35" lengthAdjust="spacingAndGlyphs">20000</text>
<text x="592.4" y="251.4" font-size="6" textLength="24.6" lengthAdjust="spacingAndGlyphs">Gene rank</text>
</g>
<g id="panel-D">
<defs><filter id="bl1" x="-30%" y="-80%" width="160%" height="260%"><feGaussianBlur stdDeviation="1.1 0.6"/></filter><filter id="bl2" x="-30%" y="-80%" width="160%" height="260%"><feGaussianBlur stdDeviation="1.3 0.9"/></filter></defs>
<text x="4.3" y="256.1" font-size="8.4" font-weight="bold" textLength="6.07" lengthAdjust="spacingAndGlyphs">D</text>
<text x="104.4" y="250.4" font-size="7.9" textLength="19.8" lengthAdjust="spacingAndGlyphs">Muscle</text>
<line x1="31.5" y1="252.8" x2="200.7" y2="252.8" stroke="#606060" stroke-width="1"/>
<text x="40" y="261.8" font-size="7.9" textLength="14" lengthAdjust="spacingAndGlyphs">CON</text>
<text x="127.2" y="261.8" font-size="7.9" textLength="23.1" lengthAdjust="spacingAndGlyphs">TB mice</text>
<line x1="31.5" y1="264.2" x2="62.7" y2="264.2" stroke="#606060" stroke-width="1"/>
<line x1="67.5" y1="264.2" x2="200.7" y2="264.2" stroke="#606060" stroke-width="1"/>
<text x="7.9" y="274.9" font-size="7.9" textLength="18.4" lengthAdjust="spacingAndGlyphs">CTSLi</text>
<text x="3.5" y="282.8" font-size="7.9" textLength="22.5" lengthAdjust="spacingAndGlyphs">αPD-L1</text>
<text x="16.1" y="290.2" font-size="7.9" textLength="9.9" lengthAdjust="spacingAndGlyphs">IgG</text>
<text x="45.9" y="271.5" font-size="6.6" text-anchor="middle" textLength="2.2" lengthAdjust="spacingAndGlyphs">-</text>
<text x="81.8" y="271.5" font-size="6.6" text-anchor="middle" textLength="2.2" lengthAdjust="spacingAndGlyphs">-</text>
<text x="116.2" y="271.5" font-size="6.6" text-anchor="middle" textLength="2.2" lengthAdjust="spacingAndGlyphs">-</text>
<text x="151.3" y="271.7" font-size="6.6" text-anchor="middle" textLength="3.47" lengthAdjust="spacingAndGlyphs">+</text>
<text x="186.2" y="271.7" font-size="6.6" text-anchor="middle" textLength="3.47" lengthAdjust="spacingAndGlyphs">+</text>
<text x="45.9" y="279.4" font-size="6.6" text-anchor="middle" textLength="2.2" lengthAdjust="spacingAndGlyphs">-</text>
<text x="81.8" y="279.4" font-size="6.6" text-anchor="middle" textLength="2.2" lengthAdjust="spacingAndGlyphs">-</text>
<text x="116.2" y="279.6" font-size="6.6" text-anchor="middle" textLength="3.47" lengthAdjust="spacingAndGlyphs">+</text>
<text x="151.3" y="279.6" font-size="6.6" text-anchor="middle" textLength="3.47" lengthAdjust="spacingAndGlyphs">+</text>
<text x="186.2" y="279.4" font-size="6.6" text-anchor="middle" textLength="2.2" lengthAdjust="spacingAndGlyphs">-</text>
<text x="45.9" y="287.4" font-size="6.6" text-anchor="middle" textLength="2.2" lengthAdjust="spacingAndGlyphs">-</text>
<text x="81.8" y="287.6" font-size="6.6" text-anchor="middle" textLength="3.47" lengthAdjust="spacingAndGlyphs">+</text>
<text x="116.2" y="287.4" font-size="6.6" text-anchor="middle" textLength="2.2" lengthAdjust="spacingAndGlyphs">-</text>
<text x="151.3" y="287.4" font-size="6.6" text-anchor="middle" textLength="2.2" lengthAdjust="spacingAndGlyphs">-</text>
<text x="186.2" y="287.4" font-size="6.6" text-anchor="middle" textLength="2.2" lengthAdjust="spacingAndGlyphs">-</text>
<line x1="31.5" y1="291.5" x2="62.7" y2="291.5" stroke="#555" stroke-width="1"/>
<line x1="66.2" y1="291.5" x2="97.2" y2="291.5" stroke="#555" stroke-width="1"/>
<line x1="100.7" y1="291.5" x2="132" y2="291.5" stroke="#555" stroke-width="1"/>
<line x1="135" y1="291.5" x2="166.6" y2="291.5" stroke="#555" stroke-width="1"/>
<line x1="169.7" y1="291.5" x2="200.7" y2="291.5" stroke="#555" stroke-width="1"/>
<defs><linearGradient id="lgD" x1="0" y1="0" x2="1" y2="0"><stop offset="0" stop-color="#dadada"/><stop offset="0.35" stop-color="#cdcdcd"/><stop offset="0.7" stop-color="#c9c9c9"/><stop offset="1" stop-color="#d2d2d2"/></linearGradient></defs>
<rect x="25.6" y="292.8" width="177.6" height="15.1" fill="url(#lgD)" stroke="#4a4a4a" stroke-width="0.8"/>
<rect x="25.6" y="309.5" width="177.6" height="14.7" fill="#f2f2f2" stroke="#4a4a4a" stroke-width="0.8"/>
<rect x="25.6" y="326.1" width="177.6" height="15.1" fill="#f4f4f4" stroke="#4a4a4a" stroke-width="0.8"/>
<ellipse cx="37.6" cy="299.8" rx="6" ry="1.3" fill="#000" opacity="0.16000000000000003" filter="url(#bl2)"/>
<ellipse cx="54.2" cy="299.8" rx="6" ry="1.3" fill="#000" opacity="0.192" filter="url(#bl2)"/>
<ellipse cx="72.6" cy="300.1" rx="6.41" ry="1.66" fill="#000" opacity="0.759" filter="url(#bl1)"/>
<ellipse cx="89.6" cy="300.1" rx="6.33" ry="1.62" fill="#000" opacity="0.713" filter="url(#bl1)"/>
<ellipse cx="108" cy="300.1" rx="6.91" ry="1.95" fill="#000" opacity="1" filter="url(#bl1)"/>
<ellipse cx="108" cy="300.1" rx="5.91" ry="1.46" fill="#000" opacity="0.95" filter="url(#bl1)"/>
<ellipse cx="125" cy="300.1" rx="7" ry="2" fill="#000" opacity="1" filter="url(#bl1)"/>
<ellipse cx="125" cy="300.1" rx="6" ry="1.5" fill="#000" opacity="0.95" filter="url(#bl1)"/>
<ellipse cx="141.2" cy="299.8" rx="6" ry="1.3" fill="#000" opacity="0.48" filter="url(#bl2)"/>
<ellipse cx="159.4" cy="299.8" rx="6" ry="1.3" fill="#000" opacity="0.20800000000000002" filter="url(#bl2)"/>
<ellipse cx="175.4" cy="299.8" rx="6" ry="1.3" fill="#000" opacity="0.256" filter="url(#bl2)"/>
<ellipse cx="193.4" cy="299.8" rx="6" ry="1.3" fill="#000" opacity="0.32000000000000006" filter="url(#bl2)"/>
<ellipse cx="54.2" cy="319.6" rx="4" ry="0.8" fill="#000" opacity="0.03" filter="url(#bl1)"/>
<ellipse cx="72.6" cy="316.4" rx="5.5" ry="1.1" fill="#000" opacity="0.33" filter="url(#bl1)"/>
<ellipse cx="72.6" cy="319.9" rx="6.25" ry="1.3" fill="#000" opacity="0.8250000000000001" filter="url(#bl1)"/>
<ellipse cx="89.6" cy="316.4" rx="5.5" ry="1.1" fill="#000" opacity="0.36" filter="url(#bl1)"/>
<ellipse cx="89.6" cy="319.9" rx="6.25" ry="1.3" fill="#000" opacity="0.8999999999999999" filter="url(#bl1)"/>
<ellipse cx="108" cy="315.4" rx="6.5" ry="1.4" fill="#000" opacity="0.95" filter="url(#bl1)"/>
<ellipse cx="108" cy="319.4" rx="7.25" ry="1.7" fill="#000" opacity="1.0" filter="url(#bl1)"/>
<ellipse cx="108" cy="319.4" rx="6.25" ry="1.3" fill="#000" opacity="1.0" filter="url(#bl1)"/>
<ellipse cx="108" cy="317.4" rx="6" ry="1.2" fill="#000" opacity="0.75" filter="url(#bl1)"/>
<ellipse cx="125" cy="315.4" rx="6.5" ry="1.4" fill="#000" opacity="0.95" filter="url(#bl1)"/>
<ellipse cx="125" cy="319.4" rx="7.25" ry="1.7" fill="#000" opacity="1.0" filter="url(#bl1)"/>
<ellipse cx="125" cy="319.4" rx="6.25" ry="1.3" fill="#000" opacity="1.0" filter="url(#bl1)"/>
<ellipse cx="125" cy="317.4" rx="6" ry="1.2" fill="#000" opacity="0.75" filter="url(#bl1)"/>
<ellipse cx="141.2" cy="319.6" rx="4" ry="0.8" fill="#000" opacity="0.03" filter="url(#bl1)"/>
<ellipse cx="159.4" cy="319.6" rx="4" ry="0.8" fill="#000" opacity="0.04" filter="url(#bl1)"/>
<ellipse cx="175.4" cy="319.6" rx="4" ry="0.8" fill="#000" opacity="0.04" filter="url(#bl1)"/>
<rect x="31.1" y="332.7" width="13" height="2.5" rx="1.25" fill="#000" opacity="1.0" filter="url(#bl1)"/>
<rect x="32.1" y="333.05" width="11" height="1.8" rx="0.9" fill="#000" opacity="0.95" filter="url(#bl1)"/>
<rect x="47.7" y="332.25" width="13" height="2.5" rx="1.25" fill="#000" opacity="1.0" filter="url(#bl1)"/>
<rect x="48.7" y="332.6" width="11" height="1.8" rx="0.9" fill="#000" opacity="0.95" filter="url(#bl1)"/>
<rect x="66.1" y="332.65" width="13" height="2.5" rx="1.25" fill="#000" opacity="1.0" filter="url(#bl1)"/>
<rect x="67.1" y="333" width="11" height="1.8" rx="0.9" fill="#000" opacity="0.95" filter="url(#bl1)"/>
<rect x="83.1" y="332.35" width="13" height="2.5" rx="1.25" fill="#000" opacity="1.0" filter="url(#bl1)"/>
<rect x="84.1" y="332.7" width="11" height="1.8" rx="0.9" fill="#000" opacity="0.95" filter="url(#bl1)"/>
<rect x="101.5" y="332.85" width="13" height="2.5" rx="1.25" fill="#000" opacity="1.0" filter="url(#bl1)"/>
<rect x="102.5" y="333.2" width="11" height="1.8" rx="0.9" fill="#000" opacity="0.95" filter="url(#bl1)"/>
<rect x="118.5" y="332.65" width="13" height="2.5" rx="1.25" fill="#000" opacity="1.0" filter="url(#bl1)"/>
<rect x="119.5" y="333" width="11" height="1.8" rx="0.9" fill="#000" opacity="0.95" filter="url(#bl1)"/>
<rect x="134.7" y="332.85" width="13" height="2.5" rx="1.25" fill="#000" opacity="1.0" filter="url(#bl1)"/>
<rect x="135.7" y="333.2" width="11" height="1.8" rx="0.9" fill="#000" opacity="0.95" filter="url(#bl1)"/>
<rect x="152.9" y="332.15" width="13" height="2.5" rx="1.25" fill="#000" opacity="1.0" filter="url(#bl1)"/>
<rect x="153.9" y="332.5" width="11" height="1.8" rx="0.9" fill="#000" opacity="0.95" filter="url(#bl1)"/>
<rect x="168.9" y="332.35" width="13" height="2.5" rx="1.25" fill="#000" opacity="1.0" filter="url(#bl1)"/>
<rect x="169.9" y="332.7" width="11" height="1.8" rx="0.9" fill="#000" opacity="0.95" filter="url(#bl1)"/>
<rect x="186.9" y="332.05" width="13" height="2.5" rx="1.25" fill="#000" opacity="1.0" filter="url(#bl1)"/>
<rect x="187.9" y="332.4" width="11" height="1.8" rx="0.9" fill="#000" opacity="0.95" filter="url(#bl1)"/>
<text x="11.9" y="303.8" font-size="8.5" textLength="10.5" lengthAdjust="spacingAndGlyphs">Ctsl</text>
<text x="6.7" y="319.9" font-size="8.5" textLength="15.7" lengthAdjust="spacingAndGlyphs">Bnip3</text>
<text x="-0.6" y="337" font-size="8.5" textLength="23" lengthAdjust="spacingAndGlyphs">Vinculin</text>
<text x="204.8" y="301.2" font-size="6.4" textLength="9.2" lengthAdjust="spacingAndGlyphs">- 25</text>
<text x="204.8" y="319.6" font-size="6.4" textLength="9.2" lengthAdjust="spacingAndGlyphs">- 25</text>
<text x="204.8" y="331.6" font-size="6.4" textLength="12.3" lengthAdjust="spacingAndGlyphs">- 150</text>
<text x="204.8" y="340.3" font-size="6.4" textLength="12.3" lengthAdjust="spacingAndGlyphs">- 100</text>
</g>
<g id="panel-E">
<text x="230.8" y="256" font-size="8.4" font-weight="bold" textLength="5.6" lengthAdjust="spacingAndGlyphs">E</text>
<text x="261.1" y="281.8" font-size="8.3" textLength="20.3" lengthAdjust="spacingAndGlyphs">C2C12</text>
<line x1="254.8" y1="283.9" x2="288" y2="283.9" stroke="#6a6a6a" stroke-width="1.3"/>
<text x="233.2" y="290.7" font-size="8.2" textLength="18.1" lengthAdjust="spacingAndGlyphs">si-Ctsl</text>
<text x="264.8" y="290.2" font-size="6.6" text-anchor="middle" textLength="2.2" lengthAdjust="spacingAndGlyphs">-</text>
<text x="279.6" y="290.2" font-size="6.6" text-anchor="middle" textLength="3.47" lengthAdjust="spacingAndGlyphs">+</text>
<rect x="254" y="292.5" width="36.5" height="15" fill="#f0f0f0" stroke="#4a4a4a" stroke-width="0.8"/>
<rect x="254" y="308.6" width="36.5" height="14.7" fill="#e4e4e4" stroke="#4a4a4a" stroke-width="0.8"/>
<rect x="254" y="324.5" width="36.5" height="15.1" fill="#f1f1f1" stroke="#4a4a4a" stroke-width="0.8"/>
<rect x="258.1" y="298.2" width="13" height="3.2" rx="1.6" fill="#000" opacity="1.0" filter="url(#bl1)"/>
<rect x="259.35" y="298.6" width="10.5" height="2.4" rx="1.2" fill="#000" opacity="0.95" filter="url(#bl1)"/>
<ellipse cx="280.4" cy="300.2" rx="5" ry="1.1" fill="#000" opacity="0.2" filter="url(#bl2)"/>
<ellipse cx="264.6" cy="313.2" rx="5.5" ry="1.1" fill="#000" opacity="0.5" filter="url(#bl1)"/>
<ellipse cx="264.6" cy="316.3" rx="6" ry="1.3" fill="#000" opacity="0.8" filter="url(#bl1)"/>
<ellipse cx="264.6" cy="319.5" rx="6.5" ry="1.6" fill="#000" opacity="1.0" filter="url(#bl1)"/>
<ellipse cx="264.6" cy="317.8" rx="6" ry="2" fill="#000" opacity="0.35" filter="url(#bl2)"/>
<ellipse cx="280.4" cy="313.6" rx="5.25" ry="1" fill="#000" opacity="0.3" filter="url(#bl1)"/>
<ellipse cx="280.4" cy="316.4" rx="5.75" ry="1.2" fill="#000" opacity="0.55" filter="url(#bl1)"/>
<ellipse cx="280.4" cy="319.2" rx="5.75" ry="1.2" fill="#000" opacity="0.55" filter="url(#bl1)"/>
<ellipse cx="280.4" cy="317" rx="5.5" ry="2.5" fill="#000" opacity="0.2" filter="url(#bl2)"/>
<rect x="256.3" y="329.9" width="13.8" height="5" rx="2.5" fill="#000" opacity="1.0" filter="url(#bl1)"/>
<rect x="257.05" y="330.4" width="12.3" height="4" rx="2" fill="#000" opacity="1.0" filter="url(#bl1)"/>
<rect x="273.9" y="329.9" width="14.6" height="5" rx="2.5" fill="#000" opacity="1.0" filter="url(#bl1)"/>
<rect x="274.65" y="330.4" width="13.1" height="4" rx="2" fill="#000" opacity="1.0" filter="url(#bl1)"/>
<text x="239.9" y="303.8" font-size="8.5" textLength="11.1" lengthAdjust="spacingAndGlyphs">Ctsl</text>
<text x="234.5" y="319.2" font-size="8.5" textLength="16.5" lengthAdjust="spacingAndGlyphs">Bnip3</text>
<text x="228.6" y="335" font-size="8.5" textLength="22.4" lengthAdjust="spacingAndGlyphs">Vinculin</text>
<text x="291.6" y="300.8" font-size="6.4" textLength="9.2" lengthAdjust="spacingAndGlyphs">- 25</text>
<text x="291.6" y="317.2" font-size="6.4" textLength="9.2" lengthAdjust="spacingAndGlyphs">- 25</text>
<text x="291.6" y="329.6" font-size="6.4" textLength="12.3" lengthAdjust="spacingAndGlyphs">- 150</text>
<text x="291.6" y="338.2" font-size="6.4" textLength="12.3" lengthAdjust="spacingAndGlyphs">- 100</text>
<text x="343.8" y="285" font-size="7.9" textLength="16.4" lengthAdjust="spacingAndGlyphs">Bnip3</text>
<line x1="332.8" y1="294.6" x2="332.8" y2="336.2" stroke="#8a8a8a" stroke-width="0.75"/>
<line x1="332.8" y1="336.2" x2="373.8" y2="336.2" stroke="#8a8a8a" stroke-width="0.75"/>
<line x1="331.4" y1="295.2" x2="332.8" y2="295.2" stroke="#8a8a8a" stroke-width="0.68"/>
<text x="330.1" y="297.32" font-size="5.9" text-anchor="end" textLength="6.89" lengthAdjust="spacingAndGlyphs">1.5</text>
<line x1="331.4" y1="308.6" x2="332.8" y2="308.6" stroke="#8a8a8a" stroke-width="0.68"/>
<text x="330.1" y="310.72" font-size="5.9" text-anchor="end" textLength="6.89" lengthAdjust="spacingAndGlyphs">1.0</text>
<line x1="331.4" y1="322.6" x2="332.8" y2="322.6" stroke="#8a8a8a" stroke-width="0.68"/>
<text x="330.1" y="324.72" font-size="5.9" text-anchor="end" textLength="6.89" lengthAdjust="spacingAndGlyphs">0.5</text>
<line x1="331.4" y1="336.1" x2="332.8" y2="336.1" stroke="#8a8a8a" stroke-width="0.68"/>
<text x="330.1" y="338.22" font-size="5.9" text-anchor="end" textLength="6.89" lengthAdjust="spacingAndGlyphs">0.0</text>
<rect x="339.1" y="309.2" width="11.1" height="27" fill="#9b9b9f"/>
<rect x="356.2" y="320.9" width="11.7" height="15.3" fill="#d0e3e3"/>
<circle cx="342" cy="308.8" r="1.05" fill="none" stroke="#707074" stroke-width="0.6"/>
<circle cx="344.6" cy="308.8" r="1.05" fill="none" stroke="#707074" stroke-width="0.6"/>
<circle cx="347.2" cy="308.8" r="1.05" fill="none" stroke="#707074" stroke-width="0.6"/>
<line x1="362" y1="316.6" x2="362" y2="325.2" stroke="#3f9999" stroke-width="0.6"/>
<circle cx="362" cy="317.4" r="1" fill="#3f9999"/>
<circle cx="362" cy="320.6" r="1" fill="#3f9999"/>
<circle cx="362" cy="324.2" r="1" fill="#3f9999"/>
<text x="350.8" y="316" font-size="6.5" textLength="23" lengthAdjust="spacingAndGlyphs">P=0.0050</text>
<text x="317.6" y="315.2" font-size="7.9" text-anchor="middle" transform="rotate(-90 317.6 315.2)" textLength="55.5" lengthAdjust="spacingAndGlyphs">Relative expression</text>
</g>
<g id="panel-F">
<text x="379.4" y="256.4" font-size="8.4" font-weight="bold" textLength="5.13" lengthAdjust="spacingAndGlyphs">F</text>
<line x1="412.9" y1="267.9" x2="412.9" y2="336.1" stroke="#333" stroke-width="0.8"/>
<line x1="412.9" y1="336.1" x2="484.8" y2="336.1" stroke="#333" stroke-width="0.8"/>
<line x1="411.1" y1="269.2" x2="412.9" y2="269.2" stroke="#333" stroke-width="0.72"/>
<text x="409.5" y="271.61" font-size="6.7" text-anchor="end" textLength="5.96" lengthAdjust="spacingAndGlyphs">25</text>
<line x1="411.1" y1="282.7" x2="412.9" y2="282.7" stroke="#333" stroke-width="0.72"/>
<text x="409.5" y="285.11" font-size="6.7" text-anchor="end" textLength="5.96" lengthAdjust="spacingAndGlyphs">20</text>
<line x1="411.1" y1="295.8" x2="412.9" y2="295.8" stroke="#333" stroke-width="0.72"/>
<text x="409.5" y="298.21" font-size="6.7" text-anchor="end" textLength="5.96" lengthAdjust="spacingAndGlyphs">15</text>
<line x1="411.1" y1="309.2" x2="412.9" y2="309.2" stroke="#333" stroke-width="0.72"/>
<text x="409.5" y="311.61" font-size="6.7" text-anchor="end" textLength="5.96" lengthAdjust="spacingAndGlyphs">10</text>
<line x1="411.1" y1="322.6" x2="412.9" y2="322.6" stroke="#333" stroke-width="0.72"/>
<text x="409.5" y="325.01" font-size="6.7" text-anchor="end" textLength="2.98" lengthAdjust="spacingAndGlyphs">5</text>
<line x1="411.1" y1="335.8" x2="412.9" y2="335.8" stroke="#333" stroke-width="0.72"/>
<text x="409.5" y="338.21" font-size="6.7" text-anchor="end" textLength="2.98" lengthAdjust="spacingAndGlyphs">0</text>
<rect x="419.5" y="290.5" width="11.4" height="45.6" fill="#9b9b9f"/>
<circle cx="421.4" cy="290.4" r="1.25" fill="none" stroke="#6c6c70" stroke-width="0.7"/><circle cx="425.2" cy="290.4" r="1.25" fill="none" stroke="#6c6c70" stroke-width="0.7"/><circle cx="429" cy="290.4" r="1.25" fill="none" stroke="#6c6c70" stroke-width="0.7"/>
<rect x="437.1" y="276.6" width="11.4" height="59.5" fill="#d0e3e3"/>
<circle cx="439" cy="276.3" r="1.25" fill="none" stroke="#2f9292" stroke-width="0.7"/><circle cx="442.8" cy="276.7" r="1.25" fill="none" stroke="#2f9292" stroke-width="0.7"/><circle cx="446.6" cy="277.1" r="1.25" fill="none" stroke="#2f9292" stroke-width="0.7"/>
<rect x="454.7" y="308.1" width="11.4" height="28" fill="#fbb5b5"/>
<circle cx="456.6" cy="307.6" r="1.25" fill="none" stroke="#ee1515" stroke-width="0.7"/><circle cx="460.4" cy="308.8" r="1.25" fill="none" stroke="#ee1515" stroke-width="0.7"/><circle cx="464.2" cy="309.8" r="1.25" fill="none" stroke="#ee1515" stroke-width="0.7"/>
<rect x="471.9" y="295.3" width="11.8" height="40.8" fill="#b6b6fb"/>
<circle cx="474" cy="295.3" r="1.25" fill="none" stroke="#2222ee" stroke-width="0.7"/><circle cx="477.8" cy="295.6" r="1.25" fill="none" stroke="#2222ee" stroke-width="0.7"/><circle cx="481.6" cy="296.3" r="1.25" fill="none" stroke="#2222ee" stroke-width="0.7"/>
<text x="400.7" y="299.4" font-size="7.9" text-anchor="middle" transform="rotate(-90 400.7 299.4)" textLength="67" lengthAdjust="spacingAndGlyphs">Myotube diameter (µm)</text>
<text x="420.6" y="268.9" font-size="6.5" textLength="21.8" lengthAdjust="spacingAndGlyphs">P&lt;0.0001</text>
<line x1="420.2" y1="270.4" x2="454.4" y2="270.4" stroke="#444" stroke-width="0.8"/>
<line x1="420.2" y1="272.3" x2="435" y2="272.3" stroke="#808080" stroke-width="0.9"/>
<line x1="443.9" y1="272.3" x2="478.3" y2="272.3" stroke="#808080" stroke-width="0.9"/>
<text x="458.4" y="270.9" font-size="6.5" textLength="22.4" lengthAdjust="spacingAndGlyphs">P&lt;0.0001</text>
<text x="458.6" y="290.4" font-size="6.5" textLength="22.4" lengthAdjust="spacingAndGlyphs">P&lt;0.0001</text>
<line x1="463" y1="292.4" x2="478" y2="292.4" stroke="#444" stroke-width="0.8"/>
<text x="394.7" y="343.9" font-size="7.9" textLength="20.3" lengthAdjust="spacingAndGlyphs">si-Cont</text>
<text x="391.1" y="351.5" font-size="7.9" textLength="23.9" lengthAdjust="spacingAndGlyphs">si-Bnip3</text>
<text x="425.3" y="343.3" font-size="6.6" text-anchor="middle" textLength="3.47" lengthAdjust="spacingAndGlyphs">+</text>
<text x="442.9" y="343.1" font-size="6.6" text-anchor="middle" textLength="2.2" lengthAdjust="spacingAndGlyphs">-</text>
<text x="460.3" y="343.3" font-size="6.6" text-anchor="middle" textLength="3.47" lengthAdjust="spacingAndGlyphs">+</text>
<text x="477.9" y="343.1" font-size="6.6" text-anchor="middle" textLength="2.2" lengthAdjust="spacingAndGlyphs">-</text>
<text x="425.3" y="349.3" font-size="6.6" text-anchor="middle" textLength="2.2" lengthAdjust="spacingAndGlyphs">-</text>
<text x="442.9" y="349.5" font-size="6.6" text-anchor="middle" textLength="3.47" lengthAdjust="spacingAndGlyphs">+</text>
<text x="460.3" y="349.3" font-size="6.6" text-anchor="middle" textLength="2.2" lengthAdjust="spacingAndGlyphs">-</text>
<text x="477.9" y="349.5" font-size="6.6" text-anchor="middle" textLength="3.47" lengthAdjust="spacingAndGlyphs">+</text>
<line x1="422.6" y1="352.3" x2="452.6" y2="352.3" stroke="#5c5c5c" stroke-width="1"/>
<line x1="457.2" y1="352.3" x2="486.8" y2="352.3" stroke="#5c5c5c" stroke-width="1"/>
<text x="424.3" y="360.3" font-size="7.9" textLength="24.8" lengthAdjust="spacingAndGlyphs">- CD8<tspan font-size="4.74" dy="-2.4">+</tspan><tspan dy="2.4"> T</tspan></text>
<text x="457.8" y="360.3" font-size="7.9" textLength="25.9" lengthAdjust="spacingAndGlyphs">+ CD8<tspan font-size="4.74" dy="-2.4">+</tspan><tspan dy="2.4"> T</tspan></text>
<line x1="421.6" y1="362.6" x2="487.8" y2="362.6" stroke="#444" stroke-width="1"/>
<text x="436.1" y="370.4" font-size="7.9" textLength="38.7" lengthAdjust="spacingAndGlyphs">C2C12 in CM</text>
</g>
<g id="panel-G">
<text x="506.6" y="256.3" font-size="8.4" font-weight="bold" textLength="6.53" lengthAdjust="spacingAndGlyphs">G</text>
<line x1="546.4" y1="269.4" x2="546.4" y2="303.9" stroke="#333" stroke-width="0.8"/>
<line x1="546.4" y1="309.3" x2="546.4" y2="343.8" stroke="#333" stroke-width="0.8"/>
<line x1="546.4" y1="343.8" x2="624.8" y2="343.8" stroke="#333" stroke-width="0.8"/>
<line x1="543.3" y1="269.8" x2="546.4" y2="269.8" stroke="#333" stroke-width="0.72"/>
<text x="540.9" y="271.92" font-size="5.9" text-anchor="end" textLength="6.89" lengthAdjust="spacingAndGlyphs">1.1</text>
<line x1="543.3" y1="281" x2="546.4" y2="281" stroke="#333" stroke-width="0.72"/>
<text x="540.9" y="283.12" font-size="5.9" text-anchor="end" textLength="6.89" lengthAdjust="spacingAndGlyphs">1.0</text>
<line x1="543.3" y1="292.3" x2="546.4" y2="292.3" stroke="#333" stroke-width="0.72"/>
<text x="540.9" y="294.42" font-size="5.9" text-anchor="end" textLength="6.89" lengthAdjust="spacingAndGlyphs">0.9</text>
<line x1="543.3" y1="303.6" x2="546.4" y2="303.6" stroke="#333" stroke-width="0.72"/>
<text x="540.9" y="305.72" font-size="5.9" text-anchor="end" textLength="6.89" lengthAdjust="spacingAndGlyphs">0.8</text>
<line x1="543.3" y1="309.4" x2="546.4" y2="309.4" stroke="#333" stroke-width="0.72"/>
<text x="540.9" y="311.52" font-size="5.9" text-anchor="end" textLength="6.89" lengthAdjust="spacingAndGlyphs">0.6</text>
<line x1="543.3" y1="326.6" x2="546.4" y2="326.6" stroke="#333" stroke-width="0.72"/>
<text x="540.9" y="328.72" font-size="5.9" text-anchor="end" textLength="6.89" lengthAdjust="spacingAndGlyphs">0.3</text>
<line x1="543.3" y1="343.7" x2="546.4" y2="343.7" stroke="#333" stroke-width="0.72"/>
<text x="540.9" y="345.82" font-size="5.9" text-anchor="end" textLength="2.76" lengthAdjust="spacingAndGlyphs">0</text>
<rect x="551.3" y="281.5" width="9.5" height="62.3" fill="#9b9b9f"/>
<rect x="566.2" y="317.9" width="9.5" height="25.9" fill="#fbb5b5"/>
<rect x="581" y="332.8" width="9.5" height="11" fill="#b6b6fb"/>
<rect x="595.1" y="316.6" width="9.7" height="27.2" fill="#fdd3ab"/>
<rect x="609.9" y="313.9" width="9.7" height="29.9" fill="#e2b4f6"/>
<rect x="550.5" y="304.4" width="11.5" height="4.2" fill="#fff"/>
<circle cx="552.3" cy="281.49" r="1.2" fill="none" stroke="#6c6c70" stroke-width="0.7"/>
<circle cx="553.13" cy="281.95" r="1.2" fill="none" stroke="#6c6c70" stroke-width="0.7"/>
<circle cx="553.97" cy="282.15" r="1.2" fill="none" stroke="#6c6c70" stroke-width="0.7"/>
<circle cx="554.8" cy="282.72" r="1.2" fill="none" stroke="#6c6c70" stroke-width="0.7"/>
<circle cx="555.63" cy="281.94" r="1.2" fill="none" stroke="#6c6c70" stroke-width="0.7"/>
<circle cx="556.47" cy="282.64" r="1.2" fill="none" stroke="#6c6c70" stroke-width="0.7"/>
<circle cx="557.3" cy="279.21" r="1.2" fill="none" stroke="#6c6c70" stroke-width="0.7"/>
<circle cx="558.13" cy="280.89" r="1.2" fill="none" stroke="#6c6c70" stroke-width="0.7"/>
<circle cx="558.97" cy="282.72" r="1.2" fill="none" stroke="#6c6c70" stroke-width="0.7"/>
<circle cx="559.8" cy="281.59" r="1.2" fill="none" stroke="#6c6c70" stroke-width="0.7"/>
<circle cx="567.2" cy="319.05" r="1.2" fill="none" stroke="#ee1515" stroke-width="0.7"/>
<circle cx="568.03" cy="315.77" r="1.2" fill="none" stroke="#ee1515" stroke-width="0.7"/>
<circle cx="568.87" cy="317.25" r="1.2" fill="none" stroke="#ee1515" stroke-width="0.7"/>
<circle cx="569.7" cy="316.33" r="1.2" fill="none" stroke="#ee1515" stroke-width="0.7"/>
<circle cx="570.53" cy="317.56" r="1.2" fill="none" stroke="#ee1515" stroke-width="0.7"/>
<circle cx="571.37" cy="317.69" r="1.2" fill="none" stroke="#ee1515" stroke-width="0.7"/>
<circle cx="572.2" cy="315.35" r="1.2" fill="none" stroke="#ee1515" stroke-width="0.7"/>
<circle cx="573.03" cy="316.2" r="1.2" fill="none" stroke="#ee1515" stroke-width="0.7"/>
<circle cx="573.87" cy="316.46" r="1.2" fill="none" stroke="#ee1515" stroke-width="0.7"/>
<circle cx="574.7" cy="319.11" r="1.2" fill="none" stroke="#ee1515" stroke-width="0.7"/>
<circle cx="582" cy="333" r="1.2" fill="none" stroke="#2222ee" stroke-width="0.7"/>
<circle cx="582.83" cy="332.13" r="1.2" fill="none" stroke="#2222ee" stroke-width="0.7"/>
<circle cx="583.67" cy="333.05" r="1.2" fill="none" stroke="#2222ee" stroke-width="0.7"/>
<circle cx="584.5" cy="332.1" r="1.2" fill="none" stroke="#2222ee" stroke-width="0.7"/>
<circle cx="585.33" cy="332.79" r="1.2" fill="none" stroke="#2222ee" stroke-width="0.7"/>
<circle cx="586.17" cy="332.08" r="1.2" fill="none" stroke="#2222ee" stroke-width="0.7"/>
<circle cx="587" cy="331.9" r="1.2" fill="none" stroke="#2222ee" stroke-width="0.7"/>
<circle cx="587.83" cy="333.15" r="1.2" fill="none" stroke="#2222ee" stroke-width="0.7"/>
<circle cx="588.67" cy="332.2" r="1.2" fill="none" stroke="#2222ee" stroke-width="0.7"/>
<circle cx="589.5" cy="332.21" r="1.2" fill="none" stroke="#2222ee" stroke-width="0.7"/>
<circle cx="596.1" cy="317.34" r="1.2" fill="none" stroke="#f58a0a" stroke-width="0.7"/>
<circle cx="596.96" cy="317.11" r="1.2" fill="none" stroke="#f58a0a" stroke-width="0.7"/>
<circle cx="597.81" cy="315.9" r="1.2" fill="none" stroke="#f58a0a" stroke-width="0.7"/>
<circle cx="598.67" cy="317.3" r="1.2" fill="none" stroke="#f58a0a" stroke-width="0.7"/>
<circle cx="599.52" cy="316.42" r="1.2" fill="none" stroke="#f58a0a" stroke-width="0.7"/>
<circle cx="600.38" cy="316.71" r="1.2" fill="none" stroke="#f58a0a" stroke-width="0.7"/>
<circle cx="601.23" cy="315.73" r="1.2" fill="none" stroke="#f58a0a" stroke-width="0.7"/>
<circle cx="602.09" cy="317.26" r="1.2" fill="none" stroke="#f58a0a" stroke-width="0.7"/>
<circle cx="602.94" cy="316.74" r="1.2" fill="none" stroke="#f58a0a" stroke-width="0.7"/>
<circle cx="603.8" cy="317.31" r="1.2" fill="none" stroke="#f58a0a" stroke-width="0.7"/>
<circle cx="610.9" cy="314.93" r="1.2" fill="none" stroke="#a010e0" stroke-width="0.7"/>
<circle cx="611.76" cy="312.65" r="1.2" fill="none" stroke="#a010e0" stroke-width="0.7"/>
<circle cx="612.61" cy="312.89" r="1.2" fill="none" stroke="#a010e0" stroke-width="0.7"/>
<circle cx="613.47" cy="312.14" r="1.2" fill="none" stroke="#a010e0" stroke-width="0.7"/>
<circle cx="614.32" cy="312.06" r="1.2" fill="none" stroke="#a010e0" stroke-width="0.7"/>
<circle cx="615.18" cy="311.75" r="1.2" fill="none" stroke="#a010e0" stroke-width="0.7"/>
<circle cx="616.03" cy="312.66" r="1.2" fill="none" stroke="#a010e0" stroke-width="0.7"/>
<circle cx="616.89" cy="313.82" r="1.2" fill="none" stroke="#a010e0" stroke-width="0.7"/>
<circle cx="617.74" cy="311.51" r="1.2" fill="none" stroke="#a010e0" stroke-width="0.7"/>
<circle cx="618.6" cy="314.1" r="1.2" fill="none" stroke="#a010e0" stroke-width="0.7"/>
<circle cx="555.2" cy="276.6" r="1.2" fill="none" stroke="#6c6c70" stroke-width="0.7"/>
<text x="548" y="273.2" font-size="6.5" textLength="22.8" lengthAdjust="spacingAndGlyphs">P&lt;0.0001</text>
<text x="581" y="273.2" font-size="6.5" textLength="22.2" lengthAdjust="spacingAndGlyphs">P&lt;0.0001</text>
<line x1="571.8" y1="274.3" x2="614.1" y2="274.3" stroke="#444" stroke-width="0.8"/>
<text x="571.6" y="295.9" font-size="6.5" textLength="22.4" lengthAdjust="spacingAndGlyphs">P=0.0098</text>
<line x1="571.6" y1="297" x2="597" y2="297" stroke="#444" stroke-width="0.8"/>
<text x="597.8" y="295.9" font-size="6.5" textLength="22.9" lengthAdjust="spacingAndGlyphs">P=0.0005</text>
<line x1="601" y1="297" x2="614" y2="297" stroke="#444" stroke-width="0.8"/>
<text x="562.6" y="309.2" font-size="6.5" textLength="22.4" lengthAdjust="spacingAndGlyphs">P&lt;0.0001</text>
<line x1="570.8" y1="310.2" x2="584.3" y2="310.2" stroke="#444" stroke-width="0.8"/>
<text x="587.8" y="309.2" font-size="6.5" textLength="22.2" lengthAdjust="spacingAndGlyphs">P&lt;0.0001</text>
<line x1="587.8" y1="310.2" x2="601.3" y2="310.2" stroke="#444" stroke-width="0.8"/>
<text x="574.8" y="351.4" font-size="7.9" textLength="19.7" lengthAdjust="spacingAndGlyphs">Muscle</text>
<text x="520.2" y="307.4" font-size="7.9" text-anchor="middle" transform="rotate(-90 520.2 307.4)" textLength="60" lengthAdjust="spacingAndGlyphs">mtDNA copy number</text>
<text x="528.8" y="305.8" font-size="7.9" text-anchor="middle" transform="rotate(-90 528.8 305.8)" textLength="40.5" lengthAdjust="spacingAndGlyphs">(Fold Change)</text>
<circle cx="628.9" cy="272" r="2.5" fill="none" stroke="#222" stroke-width="0.95"/>
<text x="634.2" y="274.3" font-size="6.4" textLength="11.8" lengthAdjust="spacingAndGlyphs">CON</text>
<circle cx="628.9" cy="279.2" r="2.5" fill="none" stroke="#f47a7a" stroke-width="0.95"/>
<text x="634.2" y="281.5" font-size="6.4" textLength="7.8" lengthAdjust="spacingAndGlyphs">IgG</text>
<circle cx="628.9" cy="286.3" r="2.5" fill="none" stroke="#1c1cee" stroke-width="0.95"/>
<text x="634.2" y="288.6" font-size="6.4" textLength="19.2" lengthAdjust="spacingAndGlyphs">αPD-L1</text>
<circle cx="628.9" cy="293.5" r="2.5" fill="none" stroke="#f8c39a" stroke-width="0.95"/>
<text x="634.2" y="295.8" font-size="6.4" textLength="38.6" lengthAdjust="spacingAndGlyphs">αPD-L1+ CTSLi</text>
<circle cx="628.9" cy="300.4" r="2.5" fill="none" stroke="#a646e6" stroke-width="0.95"/>
<text x="634.2" y="302.7" font-size="6.4" textLength="14.8" lengthAdjust="spacingAndGlyphs">CTSLi</text>
<line x1="678.7" y1="276.8" x2="678.7" y2="304.3" stroke="#444" stroke-width="0.9"/>
<text x="680.6" y="290.6" font-size="6.2" text-anchor="middle" transform="rotate(90 680.6 290.6)" textLength="18.2" lengthAdjust="spacingAndGlyphs">TB mice</text>
</g>
<g id="panel-H">
<text x="3.2" y="384.9" font-size="8.4" font-weight="bold" textLength="6.07" lengthAdjust="spacingAndGlyphs">H</text>
<line x1="48.1" y1="383" x2="48.1" y2="465.1" stroke="#555" stroke-width="0.8"/>
<line x1="48.1" y1="465.1" x2="174.2" y2="465.1" stroke="#333" stroke-width="0.9"/>
<line x1="44.5" y1="383.5" x2="48.1" y2="383.5" stroke="#555" stroke-width="0.72"/>
<text x="42.1" y="385.91" font-size="6.7" text-anchor="end" textLength="7.45" lengthAdjust="spacingAndGlyphs">1.2</text>
<line x1="44.5" y1="411" x2="48.1" y2="411" stroke="#555" stroke-width="0.72"/>
<text x="42.1" y="413.41" font-size="6.7" text-anchor="end" textLength="7.45" lengthAdjust="spacingAndGlyphs">1.0</text>
<line x1="44.5" y1="438.3" x2="48.1" y2="438.3" stroke="#555" stroke-width="0.72"/>
<text x="42.1" y="440.71" font-size="6.7" text-anchor="end" textLength="7.45" lengthAdjust="spacingAndGlyphs">0.8</text>
<line x1="44.5" y1="465" x2="48.1" y2="465" stroke="#555" stroke-width="0.72"/>
<text x="42.1" y="467.41" font-size="6.7" text-anchor="end" textLength="7.45" lengthAdjust="spacingAndGlyphs">0.6</text>
<rect x="53.2" y="411.3" width="10.3" height="53.8" fill="#9b9b9f"/>
<line x1="54.75" y1="410.07" x2="61.95" y2="410.07" stroke="#6c6c70" stroke-width="0.6"/><circle cx="55.35" cy="413" r="1.2" fill="none" stroke="#6c6c70" stroke-width="0.7"/><circle cx="58.35" cy="404.4" r="1.2" fill="none" stroke="#6c6c70" stroke-width="0.7"/><circle cx="61.35" cy="412.8" r="1.2" fill="none" stroke="#6c6c70" stroke-width="0.7"/>
<rect x="68.3" y="424.8" width="10.3" height="40.3" fill="#dcc5b6"/>
<line x1="69.85" y1="424.43" x2="77.05" y2="424.43" stroke="#a0561e" stroke-width="0.6"/><circle cx="70.45" cy="424.9" r="1.2" fill="none" stroke="#a0561e" stroke-width="0.7"/><circle cx="73.45" cy="423.8" r="1.2" fill="none" stroke="#a0561e" stroke-width="0.7"/><circle cx="76.45" cy="424.6" r="1.2" fill="none" stroke="#a0561e" stroke-width="0.7"/>
<rect x="83.2" y="421.8" width="10.5" height="43.3" fill="#dcdcb2"/>
<line x1="84.85" y1="421.73" x2="92.05" y2="421.73" stroke="#8a8a12" stroke-width="0.6"/><circle cx="85.45" cy="422.4" r="1.2" fill="none" stroke="#8a8a12" stroke-width="0.7"/><circle cx="88.45" cy="421.6" r="1.2" fill="none" stroke="#8a8a12" stroke-width="0.7"/><circle cx="91.45" cy="421.2" r="1.2" fill="none" stroke="#8a8a12" stroke-width="0.7"/>
<rect x="98.6" y="423.2" width="10.2" height="41.9" fill="#d0e3e3"/>
<line x1="100.1" y1="423" x2="107.3" y2="423" stroke="#2f9292" stroke-width="0.6"/><circle cx="100.7" cy="424.2" r="1.2" fill="none" stroke="#2f9292" stroke-width="0.7"/><circle cx="103.7" cy="421.4" r="1.2" fill="none" stroke="#2f9292" stroke-width="0.7"/><circle cx="106.7" cy="423.4" r="1.2" fill="none" stroke="#2f9292" stroke-width="0.7"/>
<rect x="114" y="436.2" width="10.2" height="28.9" fill="#fbb5b5"/>
<line x1="115.5" y1="436.07" x2="122.7" y2="436.07" stroke="#ee1515" stroke-width="0.6"/><circle cx="116.1" cy="437.6" r="1.2" fill="none" stroke="#ee1515" stroke-width="0.7"/><circle cx="119.1" cy="434.6" r="1.2" fill="none" stroke="#ee1515" stroke-width="0.7"/><circle cx="122.1" cy="436" r="1.2" fill="none" stroke="#ee1515" stroke-width="0.7"/>
<rect x="129.1" y="441.6" width="10.5" height="23.5" fill="#b6b6fb"/>
<line x1="130.75" y1="441.33" x2="137.95" y2="441.33" stroke="#2222ee" stroke-width="0.6"/><circle cx="131.35" cy="442.6" r="1.2" fill="none" stroke="#2222ee" stroke-width="0.7"/><circle cx="134.35" cy="440" r="1.2" fill="none" stroke="#2222ee" stroke-width="0.7"/><circle cx="137.35" cy="441.4" r="1.2" fill="none" stroke="#2222ee" stroke-width="0.7"/>
<rect x="144.5" y="432.9" width="10.2" height="32.2" fill="#fdd3ab"/>
<line x1="146" y1="432.67" x2="153.2" y2="432.67" stroke="#f58a0a" stroke-width="0.6"/><circle cx="146.6" cy="433.2" r="1.2" fill="none" stroke="#f58a0a" stroke-width="0.7"/><circle cx="149.6" cy="431.8" r="1.2" fill="none" stroke="#f58a0a" stroke-width="0.7"/><circle cx="152.6" cy="433" r="1.2" fill="none" stroke="#f58a0a" stroke-width="0.7"/>
<rect x="159.3" y="430" width="10.8" height="35.1" fill="#e2b4f6"/>
<line x1="161.1" y1="429.67" x2="168.3" y2="429.67" stroke="#a010e0" stroke-width="0.6"/><circle cx="161.7" cy="431" r="1.2" fill="none" stroke="#a010e0" stroke-width="0.7"/><circle cx="164.7" cy="429.4" r="1.2" fill="none" stroke="#a010e0" stroke-width="0.7"/><circle cx="167.7" cy="428.6" r="1.2" fill="none" stroke="#a010e0" stroke-width="0.7"/>
<line x1="58.3" y1="406.6" x2="58.3" y2="411.3" stroke="#8a8a8e" stroke-width="0.6"/><line x1="56.3" y1="406.6" x2="60.3" y2="406.6" stroke="#8a8a8e" stroke-width="0.6"/><line x1="56.3" y1="411.3" x2="60.3" y2="411.3" stroke="#8a8a8e" stroke-width="0.6"/>
<text x="77.8" y="392.3" font-size="6.5" textLength="22.7" lengthAdjust="spacingAndGlyphs">P=0.0020</text>
<line x1="58.9" y1="394.7" x2="120.2" y2="394.7" stroke="#4a4a4a" stroke-width="0.8"/>
<text x="55.9" y="399.5" font-size="6.5" textLength="22.4" lengthAdjust="spacingAndGlyphs">P=0.0194</text>
<line x1="60.4" y1="400.8" x2="73.7" y2="400.8" stroke="#4a4a4a" stroke-width="0.8"/>
<text x="68.9" y="413" font-size="6.5" textLength="22.9" lengthAdjust="spacingAndGlyphs">P=0.0474</text>
<line x1="73.5" y1="415.5" x2="89.1" y2="415.5" stroke="#4a4a4a" stroke-width="0.8"/>
<text x="92.4" y="413" font-size="6.5" textLength="22.9" lengthAdjust="spacingAndGlyphs">P=0.3739</text>
<line x1="96.7" y1="415.5" x2="109.4" y2="415.5" stroke="#4a4a4a" stroke-width="0.8"/>
<text x="143.9" y="409.3" font-size="6.5" textLength="22.7" lengthAdjust="spacingAndGlyphs">P=0.0020</text>
<line x1="139.6" y1="411.4" x2="168.8" y2="411.4" stroke="#4a4a4a" stroke-width="0.8"/>
<text x="152" y="416.8" font-size="6.5" textLength="22.6" lengthAdjust="spacingAndGlyphs">P=0.2506</text>
<line x1="157.5" y1="418.3" x2="170.8" y2="418.3" stroke="#4a4a4a" stroke-width="0.8"/>
<text x="135.6" y="423.3" font-size="6.5" textLength="22.4" lengthAdjust="spacingAndGlyphs">P=0.0013</text>
<line x1="144.5" y1="425.5" x2="156.6" y2="425.5" stroke="#4a4a4a" stroke-width="0.8"/>
<text x="119.6" y="429.3" font-size="6.5" textLength="22.2" lengthAdjust="spacingAndGlyphs">P=0.0213</text>
<line x1="124.8" y1="431.7" x2="139.9" y2="431.7" stroke="#4a4a4a" stroke-width="0.8"/>
<text x="27" y="473.9" font-size="7.9" textLength="21" lengthAdjust="spacingAndGlyphs">CD8<tspan font-size="4.74" dy="-2.4">+</tspan><tspan dy="2.4"> T</tspan></text>
<text x="28.9" y="481.9" font-size="7.9" textLength="17.8" lengthAdjust="spacingAndGlyphs">CTSLi</text>
<text x="58.3" y="473.1" font-size="6.6" text-anchor="middle" textLength="2.2" lengthAdjust="spacingAndGlyphs">-</text>
<text x="73.5" y="473.3" font-size="6.6" text-anchor="middle" textLength="3.47" lengthAdjust="spacingAndGlyphs">+</text>
<text x="88.6" y="473.3" font-size="6.6" text-anchor="middle" textLength="3.47" lengthAdjust="spacingAndGlyphs">+</text>
<text x="103.7" y="473.1" font-size="6.6" text-anchor="middle" textLength="2.2" lengthAdjust="spacingAndGlyphs">-</text>
<text x="119.1" y="473.1" font-size="6.6" text-anchor="middle" textLength="2.2" lengthAdjust="spacingAndGlyphs">-</text>
<text x="134.5" y="473.3" font-size="6.6" text-anchor="middle" textLength="3.47" lengthAdjust="spacingAndGlyphs">+</text>
<text x="149.6" y="473.3" font-size="6.6" text-anchor="middle" textLength="3.47" lengthAdjust="spacingAndGlyphs">+</text>
<text x="164.7" y="473.1" font-size="6.6" text-anchor="middle" textLength="2.2" lengthAdjust="spacingAndGlyphs">-</text>
<text x="58.3" y="480.6" font-size="6.6" text-anchor="middle" textLength="2.2" lengthAdjust="spacingAndGlyphs">-</text>
<text x="73.5" y="480.6" font-size="6.6" text-anchor="middle" textLength="2.2" lengthAdjust="spacingAndGlyphs">-</text>
<text x="88.6" y="480.8" font-size="6.6" text-anchor="middle" textLength="3.47" lengthAdjust="spacingAndGlyphs">+</text>
<text x="103.7" y="480.8" font-size="6.6" text-anchor="middle" textLength="3.47" lengthAdjust="spacingAndGlyphs">+</text>
<text x="119.1" y="480.6" font-size="6.6" text-anchor="middle" textLength="2.2" lengthAdjust="spacingAndGlyphs">-</text>
<text x="134.5" y="480.6" font-size="6.6" text-anchor="middle" textLength="2.2" lengthAdjust="spacingAndGlyphs">-</text>
<text x="149.6" y="480.8" font-size="6.6" text-anchor="middle" textLength="3.47" lengthAdjust="spacingAndGlyphs">+</text>
<text x="164.7" y="480.8" font-size="6.6" text-anchor="middle" textLength="3.47" lengthAdjust="spacingAndGlyphs">+</text>
<line x1="53.2" y1="483" x2="109.4" y2="483" stroke="#5c5c5c" stroke-width="1"/>
<line x1="116.7" y1="483" x2="172.8" y2="483" stroke="#5c5c5c" stroke-width="1"/>
<text x="75" y="491.4" font-size="7.9" textLength="13.6" lengthAdjust="spacingAndGlyphs">- CM</text>
<text x="135.8" y="491.4" font-size="7.9" textLength="14.9" lengthAdjust="spacingAndGlyphs">+ CM</text>
<text x="20.6" y="426" font-size="7.9" text-anchor="middle" transform="rotate(-90 20.6 426)" textLength="59.7" lengthAdjust="spacingAndGlyphs">mtDNA copy number</text>
<text x="28.8" y="424.5" font-size="7.9" text-anchor="middle" transform="rotate(-90 28.8 424.5)" textLength="39" lengthAdjust="spacingAndGlyphs">(Fold change)</text>
</g>
<g id="panel-I">
<text x="192.6" y="385.2" font-size="8.4" font-weight="bold" textLength="2.33" lengthAdjust="spacingAndGlyphs">I</text>
<line x1="225.9" y1="391.7" x2="225.9" y2="426.8" stroke="#555" stroke-width="0.75"/>
<line x1="225.9" y1="431.2" x2="225.9" y2="465.3" stroke="#555" stroke-width="0.75"/>
<line x1="225.9" y1="465.3" x2="338" y2="465.3" stroke="#555" stroke-width="0.75"/>
<line x1="223.8" y1="392.7" x2="225.9" y2="392.7" stroke="#555" stroke-width="0.68"/>
<text x="221.5" y="394.82" font-size="5.9" text-anchor="end" textLength="6.89" lengthAdjust="spacingAndGlyphs">2.4</text>
<line x1="223.8" y1="409.2" x2="225.9" y2="409.2" stroke="#555" stroke-width="0.68"/>
<text x="221.5" y="411.32" font-size="5.9" text-anchor="end" textLength="6.89" lengthAdjust="spacingAndGlyphs">2.0</text>
<line x1="223.8" y1="426.1" x2="225.9" y2="426.1" stroke="#555" stroke-width="0.68"/>
<text x="221.5" y="428.22" font-size="5.9" text-anchor="end" textLength="6.89" lengthAdjust="spacingAndGlyphs">1.6</text>
<line x1="223.8" y1="431.9" x2="225.9" y2="431.9" stroke="#555" stroke-width="0.68"/>
<text x="221.5" y="434.02" font-size="5.9" text-anchor="end" textLength="6.89" lengthAdjust="spacingAndGlyphs">1.2</text>
<line x1="223.8" y1="448.3" x2="225.9" y2="448.3" stroke="#555" stroke-width="0.68"/>
<text x="221.5" y="450.42" font-size="5.9" text-anchor="end" textLength="6.89" lengthAdjust="spacingAndGlyphs">0.6</text>
<line x1="223.8" y1="464.8" x2="225.9" y2="464.8" stroke="#555" stroke-width="0.68"/>
<text x="221.5" y="466.92" font-size="5.9" text-anchor="end" textLength="2.76" lengthAdjust="spacingAndGlyphs">0</text>
<rect x="231.7" y="437.3" width="11.7" height="28" fill="#9b9b9f"/>
<line x1="233.95" y1="437.07" x2="241.15" y2="437.07" stroke="#6c6c70" stroke-width="0.6"/><circle cx="234.55" cy="437" r="1.2" fill="none" stroke="#6c6c70" stroke-width="0.7"/><circle cx="237.55" cy="437" r="1.2" fill="none" stroke="#6c6c70" stroke-width="0.7"/><circle cx="240.55" cy="437.2" r="1.2" fill="none" stroke="#6c6c70" stroke-width="0.7"/>
<rect x="249.2" y="417.9" width="12.2" height="47.4" fill="#d0e3e3"/>
<rect x="248.7" y="426.9" width="13.2" height="3.8" fill="#fff"/>
<line x1="251.7" y1="417.93" x2="258.9" y2="417.93" stroke="#2f9292" stroke-width="0.6"/><circle cx="252.3" cy="417.2" r="1.08" fill="#2f9292"/><circle cx="255.3" cy="418" r="1.08" fill="#2f9292"/><circle cx="258.3" cy="418.6" r="1.08" fill="#2f9292"/>
<rect x="266.8" y="409" width="12.3" height="56.3" fill="#fbb5b5"/>
<rect x="266.3" y="426.9" width="13.3" height="3.8" fill="#fff"/>
<line x1="273" y1="404" x2="273" y2="409" stroke="#f02020" stroke-width="0.6"/><line x1="271" y1="404" x2="275" y2="404" stroke="#f02020" stroke-width="0.6"/><line x1="271" y1="409" x2="275" y2="409" stroke="#f02020" stroke-width="0.6"/>
<circle cx="273" cy="404.2" r="0.95" fill="#f02020"/>
<circle cx="273" cy="410.6" r="0.95" fill="#f02020"/>
<circle cx="273.8" cy="412.6" r="0.95" fill="#f02020"/>
<rect x="284.7" y="442.9" width="12" height="22.4" fill="#b6b6fb"/>
<line x1="287.1" y1="443.2" x2="294.3" y2="443.2" stroke="#2222ee" stroke-width="0.6"/><circle cx="287.7" cy="442.6" r="1.08" fill="#2222ee"/><circle cx="290.7" cy="443.4" r="1.08" fill="#2222ee"/><circle cx="293.7" cy="443.6" r="1.08" fill="#2222ee"/>
<rect x="302.5" y="438.2" width="11.7" height="27.1" fill="#fdd3ab"/>
<line x1="304.75" y1="438.27" x2="311.95" y2="438.27" stroke="#f58a0a" stroke-width="0.6"/><circle cx="305.35" cy="437.8" r="1.08" fill="#f58a0a"/><circle cx="308.35" cy="438.2" r="1.08" fill="#f58a0a"/><circle cx="311.35" cy="438.8" r="1.08" fill="#f58a0a"/>
<rect x="320" y="437.3" width="12.2" height="28" fill="#e2b4f6"/>
<line x1="322.5" y1="437.33" x2="329.7" y2="437.33" stroke="#a010e0" stroke-width="0.6"/><circle cx="323.1" cy="437.2" r="1.08" fill="#a010e0"/><circle cx="326.1" cy="437.4" r="1.08" fill="#a010e0"/><circle cx="329.1" cy="437.4" r="1.08" fill="#a010e0"/>
<text x="254.6" y="390.8" font-size="6.5" textLength="23.4" lengthAdjust="spacingAndGlyphs">P=0.0005</text>
<line x1="236.4" y1="391.6" x2="290.1" y2="391.6" stroke="#4a4a4a" stroke-width="0.8"/>
<text x="238.3" y="397.8" font-size="6.5" textLength="22.6" lengthAdjust="spacingAndGlyphs">P&lt;0.0001</text>
<line x1="236.4" y1="398.5" x2="269.1" y2="398.5" stroke="#4a4a4a" stroke-width="0.8"/>
<line x1="236.4" y1="401" x2="251.6" y2="401" stroke="#808080" stroke-width="0.9"/>
<line x1="255" y1="401" x2="308.3" y2="401" stroke="#808080" stroke-width="0.9"/>
<text x="284.3" y="397.8" font-size="6.5" textLength="22.7" lengthAdjust="spacingAndGlyphs">P&lt;0.0001</text>
<line x1="275" y1="398.5" x2="326.3" y2="398.5" stroke="#4a4a4a" stroke-width="0.8"/>
<text x="297.8" y="424" font-size="6.5" textLength="22.7" lengthAdjust="spacingAndGlyphs">P=0.0004</text>
<line x1="291.3" y1="425.1" x2="325.9" y2="425.1" stroke="#808080" stroke-width="0.9"/>
<text x="291.3" y="431.8" font-size="6.5" textLength="23.3" lengthAdjust="spacingAndGlyphs">P=0.0019</text>
<line x1="291.3" y1="427.7" x2="306.6" y2="427.7" stroke="#4a4a4a" stroke-width="0.8"/>
<text x="222.4" y="473.4" font-size="7.9" text-anchor="end" textLength="20.6" lengthAdjust="spacingAndGlyphs">si-Cont</text>
<text x="222.4" y="479.2" font-size="7.9" text-anchor="end" textLength="17.6" lengthAdjust="spacingAndGlyphs">si-Ctsl</text>
<text x="222.4" y="485.5" font-size="7.9" text-anchor="end" textLength="22.9" lengthAdjust="spacingAndGlyphs">si-Bnip3</text>
<text x="237.6" y="473.1" font-size="6.6" text-anchor="middle" textLength="3.47" lengthAdjust="spacingAndGlyphs">+</text>
<text x="255.1" y="472.9" font-size="6.6" text-anchor="middle" textLength="2.2" lengthAdjust="spacingAndGlyphs">-</text>
<text x="273.1" y="472.9" font-size="6.6" text-anchor="middle" textLength="2.2" lengthAdjust="spacingAndGlyphs">-</text>
<text x="290.6" y="473.1" font-size="6.6" text-anchor="middle" textLength="3.47" lengthAdjust="spacingAndGlyphs">+</text>
<text x="308.3" y="472.9" font-size="6.6" text-anchor="middle" textLength="2.2" lengthAdjust="spacingAndGlyphs">-</text>
<text x="326.3" y="472.9" font-size="6.6" text-anchor="middle" textLength="2.2" lengthAdjust="spacingAndGlyphs">-</text>
<text x="237.6" y="478.6" font-size="6.6" text-anchor="middle" textLength="2.2" lengthAdjust="spacingAndGlyphs">-</text>
<text x="255.1" y="478.8" font-size="6.6" text-anchor="middle" textLength="3.47" lengthAdjust="spacingAndGlyphs">+</text>
<text x="273.1" y="478.6" font-size="6.6" text-anchor="middle" textLength="2.2" lengthAdjust="spacingAndGlyphs">-</text>
<text x="290.6" y="478.6" font-size="6.6" text-anchor="middle" textLength="2.2" lengthAdjust="spacingAndGlyphs">-</text>
<text x="308.3" y="478.8" font-size="6.6" text-anchor="middle" textLength="3.47" lengthAdjust="spacingAndGlyphs">+</text>
<text x="326.3" y="478.6" font-size="6.6" text-anchor="middle" textLength="2.2" lengthAdjust="spacingAndGlyphs">-</text>
<text x="237.6" y="484.4" font-size="6.6" text-anchor="middle" textLength="2.2" lengthAdjust="spacingAndGlyphs">-</text>
<text x="255.1" y="484.4" font-size="6.6" text-anchor="middle" textLength="2.2" lengthAdjust="spacingAndGlyphs">-</text>
<text x="273.1" y="484.6" font-size="6.6" text-anchor="middle" textLength="3.47" lengthAdjust="spacingAndGlyphs">+</text>
<text x="290.6" y="484.4" font-size="6.6" text-anchor="middle" textLength="2.2" lengthAdjust="spacingAndGlyphs">-</text>
<text x="308.3" y="484.4" font-size="6.6" text-anchor="middle" textLength="2.2" lengthAdjust="spacingAndGlyphs">-</text>
<text x="326.3" y="484.6" font-size="6.6" text-anchor="middle" textLength="3.47" lengthAdjust="spacingAndGlyphs">+</text>
<line x1="232.9" y1="486.2" x2="278.4" y2="486.2" stroke="#5c5c5c" stroke-width="1"/>
<line x1="288.9" y1="486.2" x2="334.5" y2="486.2" stroke="#5c5c5c" stroke-width="1"/>
<text x="242.2" y="494.1" font-size="7.9" textLength="25" lengthAdjust="spacingAndGlyphs">- CD8<tspan font-size="4.74" dy="-2.4">+</tspan><tspan dy="2.4"> T</tspan></text>
<text x="295.3" y="494.1" font-size="7.9" textLength="25.9" lengthAdjust="spacingAndGlyphs">+ CD8<tspan font-size="4.74" dy="-2.4">+</tspan><tspan dy="2.4"> T</tspan></text>
<line x1="232.9" y1="496.1" x2="334.5" y2="496.1" stroke="#444" stroke-width="1"/>
<text x="265.1" y="503.6" font-size="7.9" textLength="37.9" lengthAdjust="spacingAndGlyphs">C2C12 in CM</text>
<text x="199.6" y="430.2" font-size="7.9" text-anchor="middle" transform="rotate(-90 199.6 430.2)" textLength="59.6" lengthAdjust="spacingAndGlyphs">mtDNA copy number</text>
<text x="209.2" y="430.2" font-size="7.9" text-anchor="middle" transform="rotate(-90 209.2 430.2)" textLength="38.5" lengthAdjust="spacingAndGlyphs">(Fold change)</text>
</g>
<g id="panel-J">
<text x="356" y="384.4" font-size="8.4" font-weight="bold" textLength="4.67" lengthAdjust="spacingAndGlyphs">J</text>
<line x1="389.2" y1="384.9" x2="389.2" y2="465.4" stroke="#666" stroke-width="0.75"/>
<line x1="389.2" y1="465.4" x2="500.1" y2="465.4" stroke="#666" stroke-width="0.75"/>
<line x1="386" y1="385.4" x2="389.2" y2="385.4" stroke="#666" stroke-width="0.68"/>
<text x="384.2" y="387.52" font-size="5.9" text-anchor="end" textLength="5.51" lengthAdjust="spacingAndGlyphs">50</text>
<line x1="386" y1="401.5" x2="389.2" y2="401.5" stroke="#666" stroke-width="0.68"/>
<text x="384.2" y="403.62" font-size="5.9" text-anchor="end" textLength="5.51" lengthAdjust="spacingAndGlyphs">40</text>
<line x1="386" y1="417.2" x2="389.2" y2="417.2" stroke="#666" stroke-width="0.68"/>
<text x="384.2" y="419.32" font-size="5.9" text-anchor="end" textLength="5.51" lengthAdjust="spacingAndGlyphs">30</text>
<line x1="386" y1="433.3" x2="389.2" y2="433.3" stroke="#666" stroke-width="0.68"/>
<text x="384.2" y="435.42" font-size="5.9" text-anchor="end" textLength="5.51" lengthAdjust="spacingAndGlyphs">20</text>
<line x1="386" y1="449.4" x2="389.2" y2="449.4" stroke="#666" stroke-width="0.68"/>
<text x="384.2" y="451.52" font-size="5.9" text-anchor="end" textLength="5.51" lengthAdjust="spacingAndGlyphs">10</text>
<line x1="386" y1="465.1" x2="389.2" y2="465.1" stroke="#666" stroke-width="0.68"/>
<text x="384.2" y="467.22" font-size="5.9" text-anchor="end" textLength="2.76" lengthAdjust="spacingAndGlyphs">0</text>
<rect x="395.1" y="406" width="11.9" height="59.4" fill="#9b9b9f"/>
<circle cx="397.65" cy="406.2" r="1.2" fill="none" stroke="#6c6c70" stroke-width="0.7"/><circle cx="401.05" cy="404.4" r="1.2" fill="none" stroke="#6c6c70" stroke-width="0.7"/><circle cx="404.45" cy="407.6" r="1.2" fill="none" stroke="#6c6c70" stroke-width="0.7"/>
<rect x="412.5" y="420.9" width="11.9" height="44.5" fill="#d0e3e3"/>
<circle cx="415.05" cy="419.8" r="1.2" fill="none" stroke="#2f9292" stroke-width="0.7"/><circle cx="418.45" cy="419.4" r="1.2" fill="none" stroke="#2f9292" stroke-width="0.7"/><circle cx="421.85" cy="422.4" r="1.2" fill="none" stroke="#2f9292" stroke-width="0.7"/>
<rect x="430.1" y="429.6" width="11.7" height="35.8" fill="#fbb5b5"/>
<circle cx="432.55" cy="428.6" r="1.2" fill="none" stroke="#ee1515" stroke-width="0.7"/><circle cx="435.95" cy="429.4" r="1.2" fill="none" stroke="#ee1515" stroke-width="0.7"/><circle cx="439.35" cy="430" r="1.2" fill="none" stroke="#ee1515" stroke-width="0.7"/>
<rect x="447.5" y="439.5" width="12.2" height="25.9" fill="#b6b6fb"/>
<circle cx="450.2" cy="438.8" r="1.2" fill="none" stroke="#2222ee" stroke-width="0.7"/><circle cx="453.6" cy="439.4" r="1.2" fill="none" stroke="#2222ee" stroke-width="0.7"/><circle cx="457" cy="439.8" r="1.2" fill="none" stroke="#2222ee" stroke-width="0.7"/>
<rect x="465.4" y="429.6" width="11.6" height="35.8" fill="#fdd3ab"/>
<circle cx="467.8" cy="428.6" r="1.2" fill="none" stroke="#f58a0a" stroke-width="0.7"/><circle cx="471.2" cy="429.6" r="1.2" fill="none" stroke="#f58a0a" stroke-width="0.7"/><circle cx="474.6" cy="430.4" r="1.2" fill="none" stroke="#f58a0a" stroke-width="0.7"/>
<rect x="482.8" y="422.6" width="11.9" height="42.8" fill="#e2b4f6"/>
<circle cx="485.35" cy="421.8" r="1.2" fill="none" stroke="#a010e0" stroke-width="0.7"/><circle cx="488.75" cy="422.6" r="1.2" fill="none" stroke="#a010e0" stroke-width="0.7"/><circle cx="492.15" cy="423" r="1.2" fill="none" stroke="#a010e0" stroke-width="0.7"/>
<text x="405.3" y="390.5" font-size="6.5" textLength="22.8" lengthAdjust="spacingAndGlyphs">P&lt;0.0001</text>
<line x1="403.3" y1="391.9" x2="434.4" y2="391.9" stroke="#808080" stroke-width="0.9"/>
<text x="458.4" y="390.5" font-size="6.5" textLength="22.6" lengthAdjust="spacingAndGlyphs">P=0.0005</text>
<line x1="441.3" y1="391.9" x2="497.6" y2="391.9" stroke="#808080" stroke-width="0.9"/>
<text x="397.6" y="399.1" font-size="6.5" textLength="23.1" lengthAdjust="spacingAndGlyphs">P=0.0007</text>
<line x1="405.8" y1="399.9" x2="417" y2="399.9" stroke="#4a4a4a" stroke-width="0.8"/>
<text x="475.8" y="412.8" font-size="6.5" textLength="23.1" lengthAdjust="spacingAndGlyphs">P=0.0006</text>
<line x1="482.3" y1="414.1" x2="495.2" y2="414.1" stroke="#4a4a4a" stroke-width="0.8"/>
<text x="435.1" y="423.2" font-size="6.5" textLength="22.8" lengthAdjust="spacingAndGlyphs">P&lt;0.0001</text>
<line x1="441.8" y1="424.3" x2="454.2" y2="424.3" stroke="#4a4a4a" stroke-width="0.8"/>
<text x="457.9" y="423.2" font-size="6.5" textLength="22.9" lengthAdjust="spacingAndGlyphs">P=0.0001</text>
<line x1="461.7" y1="424.3" x2="474.1" y2="424.3" stroke="#4a4a4a" stroke-width="0.8"/>
<text x="388.4" y="474" font-size="7.9" text-anchor="end" textLength="17.3" lengthAdjust="spacingAndGlyphs">Gzma</text>
<text x="388.4" y="482" font-size="7.9" text-anchor="end" textLength="17.3" lengthAdjust="spacingAndGlyphs">CTSLi</text>
<text x="402.1" y="473.1" font-size="6.6" text-anchor="middle" textLength="2.2" lengthAdjust="spacingAndGlyphs">-</text>
<text x="420.2" y="473.3" font-size="6.6" text-anchor="middle" textLength="3.47" lengthAdjust="spacingAndGlyphs">+</text>
<text x="436.8" y="473.1" font-size="6.6" text-anchor="middle" textLength="2.2" lengthAdjust="spacingAndGlyphs">-</text>
<text x="455.4" y="473.3" font-size="6.6" text-anchor="middle" textLength="3.47" lengthAdjust="spacingAndGlyphs">+</text>
<text x="474.1" y="473.3" font-size="6.6" text-anchor="middle" textLength="3.47" lengthAdjust="spacingAndGlyphs">+</text>
<text x="492.7" y="473.1" font-size="6.6" text-anchor="middle" textLength="2.2" lengthAdjust="spacingAndGlyphs">-</text>
<text x="402.1" y="481" font-size="6.6" text-anchor="middle" textLength="2.2" lengthAdjust="spacingAndGlyphs">-</text>
<text x="420.2" y="481" font-size="6.6" text-anchor="middle" textLength="2.2" lengthAdjust="spacingAndGlyphs">-</text>
<text x="436.8" y="481" font-size="6.6" text-anchor="middle" textLength="2.2" lengthAdjust="spacingAndGlyphs">-</text>
<text x="455.4" y="481" font-size="6.6" text-anchor="middle" textLength="2.2" lengthAdjust="spacingAndGlyphs">-</text>
<text x="474.1" y="481.2" font-size="6.6" text-anchor="middle" textLength="3.47" lengthAdjust="spacingAndGlyphs">+</text>
<text x="492.7" y="481.2" font-size="6.6" text-anchor="middle" textLength="3.47" lengthAdjust="spacingAndGlyphs">+</text>
<line x1="395.1" y1="484.2" x2="426.9" y2="484.2" stroke="#5c5c5c" stroke-width="1"/>
<line x1="431.1" y1="484.2" x2="500.1" y2="484.2" stroke="#5c5c5c" stroke-width="1"/>
<text x="403.3" y="491.5" font-size="7.9" textLength="13.7" lengthAdjust="spacingAndGlyphs">- CM</text>
<text x="457.9" y="491.5" font-size="7.9" textLength="14.9" lengthAdjust="spacingAndGlyphs">+ CM</text>
<text x="372.6" y="423.4" font-size="7.9" text-anchor="middle" transform="rotate(-90 372.6 423.4)" textLength="67" lengthAdjust="spacingAndGlyphs">Myotube diameter (µm)</text>
</g>
<g id="panel-K">
<text x="518.6" y="384.4" font-size="8.4" font-weight="bold" textLength="6.07" lengthAdjust="spacingAndGlyphs">K</text>
<line x1="557.7" y1="384.9" x2="557.7" y2="465.4" stroke="#666" stroke-width="0.75"/>
<line x1="557.7" y1="465.4" x2="673.1" y2="465.4" stroke="#666" stroke-width="0.75"/>
<line x1="554.9" y1="385.4" x2="557.7" y2="385.4" stroke="#666" stroke-width="0.68"/>
<text x="553.1" y="387.52" font-size="5.9" text-anchor="end" textLength="6.89" lengthAdjust="spacingAndGlyphs">1.2</text>
<line x1="554.9" y1="411.7" x2="557.7" y2="411.7" stroke="#666" stroke-width="0.68"/>
<text x="553.1" y="413.82" font-size="5.9" text-anchor="end" textLength="6.89" lengthAdjust="spacingAndGlyphs">1.0</text>
<line x1="554.9" y1="438.3" x2="557.7" y2="438.3" stroke="#666" stroke-width="0.68"/>
<text x="553.1" y="440.42" font-size="5.9" text-anchor="end" textLength="6.89" lengthAdjust="spacingAndGlyphs">0.8</text>
<line x1="554.9" y1="464.8" x2="557.7" y2="464.8" stroke="#666" stroke-width="0.68"/>
<text x="553.1" y="466.92" font-size="5.9" text-anchor="end" textLength="6.89" lengthAdjust="spacingAndGlyphs">0.6</text>
<rect x="563.9" y="412.2" width="11.9" height="53.2" fill="#9b9b9f"/>
<line x1="569.85" y1="410" x2="569.85" y2="414" stroke="#6c6c70" stroke-width="0.6"/><line x1="567.85" y1="410" x2="571.85" y2="410" stroke="#6c6c70" stroke-width="0.6"/><line x1="567.85" y1="414" x2="571.85" y2="414" stroke="#6c6c70" stroke-width="0.6"/>
<circle cx="569.85" cy="410.2" r="0.95" fill="none" stroke="#6c6c70" stroke-width="0.55"/>
<circle cx="567.87" cy="412.4" r="0.95" fill="none" stroke="#6c6c70" stroke-width="0.55"/>
<circle cx="571.83" cy="413.8" r="0.95" fill="none" stroke="#6c6c70" stroke-width="0.55"/>
<rect x="581.5" y="415.2" width="12.4" height="50.2" fill="#d0e3e3"/>
<line x1="587.7" y1="412.4" x2="587.7" y2="417.8" stroke="#2f9292" stroke-width="0.6"/><line x1="585.7" y1="412.4" x2="589.7" y2="412.4" stroke="#2f9292" stroke-width="0.6"/><line x1="585.7" y1="417.8" x2="589.7" y2="417.8" stroke="#2f9292" stroke-width="0.6"/>
<circle cx="587.7" cy="412.6" r="0.95" fill="#2f9292"/>
<circle cx="588.2" cy="415.2" r="0.95" fill="#2f9292"/>
<circle cx="587.3" cy="417.6" r="0.95" fill="#2f9292"/>
<rect x="599.9" y="429.6" width="11.9" height="35.8" fill="#fbb5b5"/>
<line x1="605.85" y1="427.4" x2="605.85" y2="431" stroke="#ee1515" stroke-width="0.6"/><line x1="603.85" y1="427.4" x2="607.85" y2="427.4" stroke="#ee1515" stroke-width="0.6"/><line x1="603.85" y1="431" x2="607.85" y2="431" stroke="#ee1515" stroke-width="0.6"/>
<circle cx="605.85" cy="427.6" r="0.95" fill="#ee1515"/>
<circle cx="606.35" cy="429.8" r="0.95" fill="#ee1515"/>
<circle cx="605.45" cy="430.8" r="0.95" fill="#ee1515"/>
<rect x="618" y="437" width="12.4" height="28.4" fill="#b6b6fb"/>
<line x1="624.2" y1="435" x2="624.2" y2="439.4" stroke="#2222ee" stroke-width="0.6"/><line x1="622.2" y1="435" x2="626.2" y2="435" stroke="#2222ee" stroke-width="0.6"/><line x1="622.2" y1="439.4" x2="626.2" y2="439.4" stroke="#2222ee" stroke-width="0.6"/>
<circle cx="624.2" cy="435.2" r="0.95" fill="#2222ee"/>
<circle cx="624.7" cy="436.6" r="0.95" fill="#2222ee"/>
<circle cx="623.8" cy="439.2" r="0.95" fill="#2222ee"/>
<rect x="636.6" y="418.9" width="11.9" height="46.5" fill="#fdd3ab"/>
<line x1="642.55" y1="416.2" x2="642.55" y2="420.8" stroke="#f58a0a" stroke-width="0.6"/><line x1="640.55" y1="416.2" x2="644.55" y2="416.2" stroke="#f58a0a" stroke-width="0.6"/><line x1="640.55" y1="420.8" x2="644.55" y2="420.8" stroke="#f58a0a" stroke-width="0.6"/>
<circle cx="642.55" cy="416.4" r="0.95" fill="none" stroke="#f58a0a" stroke-width="0.55"/>
<circle cx="640.57" cy="419.2" r="0.95" fill="none" stroke="#f58a0a" stroke-width="0.55"/>
<circle cx="644.53" cy="420.6" r="0.95" fill="none" stroke="#f58a0a" stroke-width="0.55"/>
<rect x="654.7" y="421.4" width="12.2" height="44" fill="#e2b4f6"/>
<line x1="660.8" y1="419.4" x2="660.8" y2="423.4" stroke="#a010e0" stroke-width="0.6"/><line x1="658.8" y1="419.4" x2="662.8" y2="419.4" stroke="#a010e0" stroke-width="0.6"/><line x1="658.8" y1="423.4" x2="662.8" y2="423.4" stroke="#a010e0" stroke-width="0.6"/>
<circle cx="660.8" cy="419.6" r="0.95" fill="#a010e0"/>
<circle cx="661.3" cy="421.2" r="0.95" fill="#a010e0"/>
<circle cx="660.4" cy="423.2" r="0.95" fill="#a010e0"/>
<text x="575.3" y="392.1" font-size="6.5" textLength="22.4" lengthAdjust="spacingAndGlyphs">P=0.0013</text>
<line x1="573.3" y1="393.9" x2="603.6" y2="393.9" stroke="#808080" stroke-width="0.9"/>
<text x="621.7" y="392.1" font-size="6.5" textLength="22.3" lengthAdjust="spacingAndGlyphs">P=0.0191</text>
<line x1="611.8" y1="393.9" x2="663.9" y2="393.9" stroke="#808080" stroke-width="0.9"/>
<text x="567.1" y="403.3" font-size="6.5" textLength="22.4" lengthAdjust="spacingAndGlyphs">P=0.2241</text>
<line x1="574.6" y1="404.4" x2="587" y2="404.4" stroke="#4a4a4a" stroke-width="0.8"/>
<text x="621.2" y="411.3" font-size="6.5" textLength="22.4" lengthAdjust="spacingAndGlyphs">P=0.0014</text>
<line x1="630.4" y1="412.6" x2="642.8" y2="412.6" stroke="#4a4a4a" stroke-width="0.8"/>
<text x="644" y="411.3" font-size="6.5" textLength="22.9" lengthAdjust="spacingAndGlyphs">P=0.3739</text>
<line x1="649" y1="412.6" x2="661.4" y2="412.6" stroke="#4a4a4a" stroke-width="0.8"/>
<text x="603.6" y="420.8" font-size="6.5" textLength="23.1" lengthAdjust="spacingAndGlyphs">P=0.0349</text>
<line x1="611.8" y1="422.1" x2="624.2" y2="422.1" stroke="#4a4a4a" stroke-width="0.8"/>
<text x="557" y="474" font-size="7.9" text-anchor="end" textLength="16.6" lengthAdjust="spacingAndGlyphs">Gzma</text>
<text x="557" y="482" font-size="7.9" text-anchor="end" textLength="17.8" lengthAdjust="spacingAndGlyphs">CTSLi</text>
<text x="571.6" y="473.1" font-size="6.6" text-anchor="middle" textLength="2.2" lengthAdjust="spacingAndGlyphs">-</text>
<text x="589" y="473.3" font-size="6.6" text-anchor="middle" textLength="3.47" lengthAdjust="spacingAndGlyphs">+</text>
<text x="606.3" y="473.1" font-size="6.6" text-anchor="middle" textLength="2.2" lengthAdjust="spacingAndGlyphs">-</text>
<text x="624.2" y="473.3" font-size="6.6" text-anchor="middle" textLength="3.47" lengthAdjust="spacingAndGlyphs">+</text>
<text x="643.6" y="473.3" font-size="6.6" text-anchor="middle" textLength="3.47" lengthAdjust="spacingAndGlyphs">+</text>
<text x="662" y="473.1" font-size="6.6" text-anchor="middle" textLength="2.2" lengthAdjust="spacingAndGlyphs">-</text>
<text x="571.6" y="481" font-size="6.6" text-anchor="middle" textLength="2.2" lengthAdjust="spacingAndGlyphs">-</text>
<text x="589" y="481" font-size="6.6" text-anchor="middle" textLength="2.2" lengthAdjust="spacingAndGlyphs">-</text>
<text x="606.3" y="481" font-size="6.6" text-anchor="middle" textLength="2.2" lengthAdjust="spacingAndGlyphs">-</text>
<text x="624.2" y="481" font-size="6.6" text-anchor="middle" textLength="2.2" lengthAdjust="spacingAndGlyphs">-</text>
<text x="643.6" y="481.2" font-size="6.6" text-anchor="middle" textLength="3.47" lengthAdjust="spacingAndGlyphs">+</text>
<text x="662" y="481.2" font-size="6.6" text-anchor="middle" textLength="3.47" lengthAdjust="spacingAndGlyphs">+</text>
<line x1="563.9" y1="484.2" x2="596.2" y2="484.2" stroke="#5c5c5c" stroke-width="1"/>
<line x1="600.6" y1="484.2" x2="673.1" y2="484.2" stroke="#5c5c5c" stroke-width="1"/>
<text x="572.1" y="491.5" font-size="7.9" textLength="14.1" lengthAdjust="spacingAndGlyphs">- CM</text>
<text x="626.7" y="491.5" font-size="7.9" textLength="14.9" lengthAdjust="spacingAndGlyphs">+ CM</text>
<text x="533.6" y="424.2" font-size="7.9" text-anchor="middle" transform="rotate(-90 533.6 424.2)" textLength="60.4" lengthAdjust="spacingAndGlyphs">mtDNA copy number</text>
<text x="542.2" y="423.4" font-size="7.9" text-anchor="middle" transform="rotate(-90 542.2 423.4)" textLength="39.7" lengthAdjust="spacingAndGlyphs">(Fold change)</text>
</g>
<g id="panel-L">
<text x="3.5" y="521.1" font-size="8.4" font-weight="bold" textLength="5.13" lengthAdjust="spacingAndGlyphs">L</text>
<rect x="42.4" y="511.9" width="368.8" height="114.3" fill="#fff" stroke="#dcdcdc" stroke-width="1" rx="9.5"/>
<rect x="75.5" y="518.4" width="9.2" height="4.2" fill="#47a238" stroke="#3c9a2e" stroke-width="0.5" rx="2.1"/><rect x="76.5" y="519.4" width="7.2" height="2.2" fill="#86c47c" rx="1.1"/><path d="M77.4 520.84 Q77.79 518.48 78.17 520.5 Q78.56 522.52 78.94 520.5 Q79.33 518.48 79.71 520.5 Q80.1 522.52 80.49 520.5 Q80.87 518.48 81.26 520.5 Q81.64 522.52 82.03 520.5 Q82.41 518.48 82.8 520.5" fill="none" stroke="#ffffff" stroke-width="0.87" stroke-linecap="round" stroke-linejoin="round"/>
<text x="86" y="522.8" font-size="5.4" textLength="27.2" lengthAdjust="spacingAndGlyphs">Mitochondria</text>
<rect x="75.6" y="526.4" width="9.1" height="4.1" fill="#fff" stroke="#cfe6ca" stroke-width="0.5" rx="2"/>
<path d="M77.4 528.9 Q78.3 526.9 79.2 528.5 Q80.1 530.1 81 528.5 Q81.9 526.9 82.8 528.4" fill="none" stroke="#e6f1e3" stroke-width="0.6"/>
<text x="86" y="529.9" font-size="5.4" textLength="21.8" lengthAdjust="spacingAndGlyphs">Mitophagy</text>
<rect x="119.6" y="515" width="0.8" height="3.4" fill="#4a78c8"/>
<rect x="120.8" y="515" width="0.8" height="3.4" fill="#4a78c8"/>
<circle cx="120.3" cy="520.7" r="3" fill="#b99bdc"/>
<circle cx="120.9" cy="520.7" r="2.8" fill="#9a68c9"/>
<text x="126.2" y="522.8" font-size="5.4" textLength="28.6" lengthAdjust="spacingAndGlyphs">CD49a<tspan font-size="3.4" dy="-1.8">+</tspan><tspan dy="1.8"> CD8</tspan><tspan font-size="3.4" dy="-1.8">+</tspan></text>
<rect x="118.1" y="525.1" width="1.85" height="5.7" fill="#f4b21c"/>
<rect x="120.45" y="525.1" width="1.85" height="5.7" fill="#f4b21c"/>
<text x="126.2" y="530.1" font-size="5.4" textLength="12.5" lengthAdjust="spacingAndGlyphs">MHC-I</text>
<text x="49.9" y="537.6" font-size="4.6" textLength="15.8" lengthAdjust="spacingAndGlyphs">Muscle</text>
<line x1="74.6" y1="545.4" x2="95.5" y2="556.4" stroke="#e2dede" stroke-width="0.5"/>
<line x1="74" y1="550.6" x2="91" y2="571.5" stroke="#e2dede" stroke-width="0.5"/>
<rect x="48.4" y="542.3" width="24.6" height="8.8" fill="#c2191c" rx="3"/>
<path d="M73 543 L75.2 544.2 L73.4 545.4 L75.4 546.8 L73.4 548.2 L75.2 549.4 L73 550.8 Z" fill="#c2191c"/>
<ellipse cx="49.6" cy="546.9" rx="2.8" ry="4.3" fill="#e26a72"/>
<ellipse cx="49.6" cy="546.9" rx="1.4" ry="2.6" fill="#ee9aa0"/>
<path d="M95.6 555.8 L179.5 555.8 A6.4 15.05 0 0 1 179.5 585.9 L95.6 585.9 A6.4 15.05 0 0 1 95.6 555.8 Z" fill="#cf2a33"/><g fill="none" stroke="#a81c27" stroke-width="0.5"><path d="M98.16 556.1 A3.2 15.05 0 0 1 98.16 585.6"/><path d="M104.86 556.1 A3.2 15.05 0 0 1 104.86 585.6"/><path d="M111.55 556.1 A3.2 15.05 0 0 1 111.55 585.6"/><path d="M118.25 556.1 A3.2 15.05 0 0 1 118.25 585.6"/><path d="M124.94 556.1 A3.2 15.05 0 0 1 124.94 585.6"/><path d="M131.63 556.1 A3.2 15.05 0 0 1 131.63 585.6"/><path d="M138.33 556.1 A3.2 15.05 0 0 1 138.33 585.6"/><path d="M145.03 556.1 A3.2 15.05 0 0 1 145.03 585.6"/><path d="M151.72 556.1 A3.2 15.05 0 0 1 151.72 585.6"/><path d="M158.42 556.1 A3.2 15.05 0 0 1 158.42 585.6"/><path d="M165.11 556.1 A3.2 15.05 0 0 1 165.11 585.6"/><path d="M171.81 556.1 A3.2 15.05 0 0 1 171.81 585.6"/><path d="M178.5 556.1 A3.2 15.05 0 0 1 178.5 585.6"/></g><ellipse cx="95.6" cy="570.85" rx="6.4" ry="15.05" fill="#e4838a"/><ellipse cx="95.6" cy="570.85" rx="6.4" ry="15.05" fill="none" stroke="#d9505b" stroke-width="0.4"/>
<rect x="133.15" y="546.5" width="1.1" height="5" fill="#3f72c4"/><rect x="134.75" y="546.5" width="1.1" height="5" fill="#3f72c4"/><rect x="132.6" y="551.5" width="1.65" height="8.9" fill="#f4b21c"/><rect x="134.75" y="551.5" width="1.65" height="8.9" fill="#f4b21c"/><circle cx="133.8" cy="541.9" r="5.29" fill="#b99bdc"/><circle cx="134.8" cy="541.9" r="5.02" fill="#9a68c9"/>
<rect x="156.25" y="546.5" width="1.1" height="5" fill="#3f72c4"/><rect x="157.85" y="546.5" width="1.1" height="5" fill="#3f72c4"/><rect x="155.7" y="551.5" width="1.65" height="8.9" fill="#f4b21c"/><rect x="157.85" y="551.5" width="1.65" height="8.9" fill="#f4b21c"/><circle cx="156.9" cy="541.9" r="5.29" fill="#b99bdc"/><circle cx="157.9" cy="541.9" r="5.02" fill="#9a68c9"/>
<path d="M164.9 543.8 C172.4 546.4 175.6 556.0 170.6 563.6" fill="none" stroke="#f8b48e" stroke-width="1.2"/>
<path d="M168.6 561.6 L169.0 566.0 L172.8 563.8 Z" fill="#f8b48e"/>
<rect x="136.2" y="563" width="15" height="7.2" fill="#47a238" stroke="#3c9a2e" stroke-width="0.5" rx="3.6"/><rect x="137.2" y="564" width="13" height="5.2" fill="#86c47c" rx="2.6"/><path d="M138.1 567.18 Q138.9 563.14 139.7 566.6 Q140.5 570.06 141.3 566.6 Q142.1 563.14 142.9 566.6 Q143.7 570.06 144.5 566.6 Q145.3 563.14 146.1 566.6 Q146.9 570.06 147.7 566.6 Q148.5 563.14 149.3 566.6" fill="none" stroke="#ffffff" stroke-width="1.11" stroke-linecap="round" stroke-linejoin="round"/>
<rect x="151.4" y="563" width="15" height="7.2" fill="#fdf7f5" stroke="#ecd6d2" stroke-width="0.5" rx="3.6"/><rect x="152.4" y="564" width="13" height="5.2" fill="#fdf7f5" rx="2.6"/><path d="M153.3 567.18 Q154.1 563.14 154.9 566.6 Q155.7 570.06 156.5 566.6 Q157.3 563.14 158.1 566.6 Q158.9 570.06 159.7 566.6 Q160.5 563.14 161.3 566.6 Q162.1 570.06 162.9 566.6 Q163.7 563.14 164.5 566.6" fill="none" stroke="#dcb0a9" stroke-width="1.11" stroke-linecap="round" stroke-linejoin="round"/>
<rect x="129" y="575.2" width="15" height="7.2" fill="#47a238" stroke="#3c9a2e" stroke-width="0.5" rx="3.6"/><rect x="130" y="576.2" width="13" height="5.2" fill="#86c47c" rx="2.6"/><path d="M130.9 579.38 Q131.7 575.34 132.5 578.8 Q133.3 582.26 134.1 578.8 Q134.9 575.34 135.7 578.8 Q136.5 582.26 137.3 578.8 Q138.1 575.34 138.9 578.8 Q139.7 582.26 140.5 578.8 Q141.3 575.34 142.1 578.8" fill="none" stroke="#ffffff" stroke-width="1.11" stroke-linecap="round" stroke-linejoin="round"/>
<rect x="146.7" y="575.2" width="15" height="7.2" fill="#47a238" stroke="#3c9a2e" stroke-width="0.5" rx="3.6"/><rect x="147.7" y="576.2" width="13" height="5.2" fill="#86c47c" rx="2.6"/><path d="M148.6 579.38 Q149.4 575.34 150.2 578.8 Q151 582.26 151.8 578.8 Q152.6 575.34 153.4 578.8 Q154.2 582.26 155 578.8 Q155.8 575.34 156.6 578.8 Q157.4 582.26 158.2 578.8 Q159 575.34 159.8 578.8" fill="none" stroke="#ffffff" stroke-width="1.11" stroke-linecap="round" stroke-linejoin="round"/>
<rect x="163.5" y="575.3" width="14.6" height="7" fill="#fdf7f5" stroke="#ecd6d2" stroke-width="0.5" rx="3.5"/><rect x="164.5" y="576.3" width="12.6" height="5" fill="#fdf7f5" rx="2.5"/><path d="M165.4 579.36 Q166.17 575.44 166.94 578.8 Q167.71 582.16 168.49 578.8 Q169.26 575.44 170.03 578.8 Q170.8 582.16 171.57 578.8 Q172.34 575.44 173.11 578.8 Q173.89 582.16 174.66 578.8 Q175.43 575.44 176.2 578.8" fill="none" stroke="#dcb0a9" stroke-width="1.1" stroke-linecap="round" stroke-linejoin="round"/>
<rect x="94.2" y="568.1" width="18.4" height="8.1" fill="#622e9e" stroke="#b79ade" stroke-width="0.5"/>
<text x="103.4" y="574.1" font-size="5.4" text-anchor="middle" fill="#e6dcf5" textLength="11.2" lengthAdjust="spacingAndGlyphs">CTSL</text>
<path d="M114.2 572.4 L131.5 572.4" fill="none" stroke="#fbe9e6" stroke-width="1"/>
<path d="M130.6 570.6 L134.2 572.4 L130.6 574.2 Z" fill="#fbe9e6"/>
<path d="M117.5 572.2 C123 571.5 126.5 568.8 129.0 563.6" fill="none" stroke="#fbe9e6" stroke-width="1"/>
<path d="M127.2 564.6 L130.0 561.4 L130.8 565.6 Z" fill="#fbe9e6"/>
<rect x="135.8" y="568.4" width="18.6" height="7" fill="#7b5a12" stroke="#b99738" stroke-width="0.5"/>
<text x="145.1" y="573.7" font-size="4.8" text-anchor="middle" fill="#f3ead2" textLength="12.6" lengthAdjust="spacingAndGlyphs">BNIP3</text>
<rect x="161.4" y="566.6" width="20.3" height="7.8" fill="#8b9bdb" stroke="#c7d0f1" stroke-width="0.5" rx="3.9"/>
<text x="171.5" y="572.4" font-size="5" text-anchor="middle" fill="#fff" textLength="11.4" lengthAdjust="spacingAndGlyphs">Gzma</text>
<rect x="103.4" y="589.7" width="71.9" height="18" fill="#c8252e"/>
<text x="122" y="596.9" font-size="7.6" fill="#fff" textLength="2.7" lengthAdjust="spacingAndGlyphs">↑</text>
<text x="126.7" y="597.2" font-size="5.4" fill="#fff" textLength="29.1" lengthAdjust="spacingAndGlyphs">CD49a<tspan font-size="3.4" dy="-1.8">+</tspan><tspan dy="1.8"> CD8</tspan><tspan font-size="3.4" dy="-1.8">+</tspan></text>
<text x="110.6" y="604.3" font-size="7.6" fill="#fff" textLength="2.7" lengthAdjust="spacingAndGlyphs">↑</text>
<text x="114.6" y="604.3" font-size="5.4" fill="#fff" textLength="53.2" lengthAdjust="spacingAndGlyphs">Mitochondrial dysfunction</text>
<text x="124" y="615.8" font-size="6" textLength="31.9" lengthAdjust="spacingAndGlyphs">No treatment</text>
<path d="M195.4 563.2 L289.6 563.2 A5.2 11.5 0 0 1 289.6 586.2 L195.4 586.2 A5.2 11.5 0 0 1 195.4 563.2 Z" fill="#cf2a33"/><g fill="none" stroke="#a81c27" stroke-width="0.5"><path d="M197.48 563.5 A2.6 11.5 0 0 1 197.48 585.9"/><path d="M204.49 563.5 A2.6 11.5 0 0 1 204.49 585.9"/><path d="M211.5 563.5 A2.6 11.5 0 0 1 211.5 585.9"/><path d="M218.51 563.5 A2.6 11.5 0 0 1 218.51 585.9"/><path d="M225.52 563.5 A2.6 11.5 0 0 1 225.52 585.9"/><path d="M232.53 563.5 A2.6 11.5 0 0 1 232.53 585.9"/><path d="M239.54 563.5 A2.6 11.5 0 0 1 239.54 585.9"/><path d="M246.54 563.5 A2.6 11.5 0 0 1 246.54 585.9"/><path d="M253.55 563.5 A2.6 11.5 0 0 1 253.55 585.9"/><path d="M260.56 563.5 A2.6 11.5 0 0 1 260.56 585.9"/><path d="M267.57 563.5 A2.6 11.5 0 0 1 267.57 585.9"/><path d="M274.58 563.5 A2.6 11.5 0 0 1 274.58 585.9"/><path d="M281.59 563.5 A2.6 11.5 0 0 1 281.59 585.9"/><path d="M288.6 563.5 A2.6 11.5 0 0 1 288.6 585.9"/></g><ellipse cx="195.4" cy="574.7" rx="5.2" ry="11.5" fill="#e4838a"/><ellipse cx="195.4" cy="574.7" rx="5.2" ry="11.5" fill="none" stroke="#d9505b" stroke-width="0.4"/>
<rect x="230.65" y="553" width="1.1" height="4.54" fill="#3f72c4"/><rect x="232.25" y="553" width="1.1" height="4.54" fill="#3f72c4"/><rect x="230.1" y="557.54" width="1.65" height="8.06" fill="#f4b21c"/><rect x="232.25" y="557.54" width="1.65" height="8.06" fill="#f4b21c"/><circle cx="231.3" cy="548.4" r="5.29" fill="#b99bdc"/><circle cx="232.3" cy="548.4" r="5.02" fill="#9a68c9"/>
<rect x="244.05" y="553" width="1.1" height="4.54" fill="#3f72c4"/><rect x="245.65" y="553" width="1.1" height="4.54" fill="#3f72c4"/><rect x="243.5" y="557.54" width="1.65" height="8.06" fill="#f4b21c"/><rect x="245.65" y="557.54" width="1.65" height="8.06" fill="#f4b21c"/><circle cx="244.7" cy="548.4" r="5.29" fill="#b99bdc"/><circle cx="245.7" cy="548.4" r="5.02" fill="#9a68c9"/>
<rect x="257.55" y="553" width="1.1" height="4.54" fill="#3f72c4"/><rect x="259.15" y="553" width="1.1" height="4.54" fill="#3f72c4"/><rect x="257" y="557.54" width="1.65" height="8.06" fill="#f4b21c"/><rect x="259.15" y="557.54" width="1.65" height="8.06" fill="#f4b21c"/><circle cx="258.2" cy="548.4" r="5.29" fill="#b99bdc"/><circle cx="259.2" cy="548.4" r="5.02" fill="#9a68c9"/>
<rect x="271.75" y="553" width="1.1" height="4.54" fill="#3f72c4"/><rect x="273.35" y="553" width="1.1" height="4.54" fill="#3f72c4"/><rect x="271.2" y="557.54" width="1.65" height="8.06" fill="#f4b21c"/><rect x="273.35" y="557.54" width="1.65" height="8.06" fill="#f4b21c"/><circle cx="272.4" cy="548.4" r="5.29" fill="#b99bdc"/><circle cx="273.4" cy="548.4" r="5.02" fill="#9a68c9"/>
<path d="M282.7 545.6 C290.6 548.6 293.6 560.0 286.4 568.8" fill="none" stroke="#f8b48e" stroke-width="1.2"/>
<path d="M284.6 566.4 L284.6 571.2 L288.8 568.8 Z" fill="#f8b48e"/>
<rect x="231.9" y="565.3" width="12" height="5" fill="#fdf7f5" stroke="#ecd6d2" stroke-width="0.5" rx="2.5"/><rect x="232.9" y="566.3" width="10" height="3" fill="#fdf7f5" rx="1.5"/><path d="M233.8 568.2 Q234.39 565.4 234.97 567.8 Q235.56 570.2 236.14 567.8 Q236.73 565.4 237.31 567.8 Q237.9 570.2 238.49 567.8 Q239.07 565.4 239.66 567.8 Q240.24 570.2 240.83 567.8 Q241.41 565.4 242 567.8" fill="none" stroke="#dcb0a9" stroke-width="1" stroke-linecap="round" stroke-linejoin="round"/>
<rect x="248.6" y="565.8" width="12" height="5.6" fill="#fdf7f5" stroke="#ecd6d2" stroke-width="0.5" rx="2.8"/><rect x="249.6" y="566.8" width="10" height="3.6" fill="#fdf7f5" rx="1.8"/><path d="M250.5 569.05 Q251.09 565.91 251.67 568.6 Q252.26 571.29 252.84 568.6 Q253.43 565.91 254.01 568.6 Q254.6 571.29 255.19 568.6 Q255.77 565.91 256.36 568.6 Q256.94 571.29 257.53 568.6 Q258.11 565.91 258.7 568.6" fill="none" stroke="#dcb0a9" stroke-width="1" stroke-linecap="round" stroke-linejoin="round"/>
<rect x="227.2" y="578.2" width="14.6" height="6.2" fill="#47a238" stroke="#3c9a2e" stroke-width="0.5" rx="3.1"/><rect x="228.2" y="579.2" width="12.6" height="4.2" fill="#86c47c" rx="2.1"/><path d="M229.1 581.8 Q229.87 578.32 230.64 581.3 Q231.41 584.28 232.19 581.3 Q232.96 578.32 233.73 581.3 Q234.5 584.28 235.27 581.3 Q236.04 578.32 236.81 581.3 Q237.59 584.28 238.36 581.3 Q239.13 578.32 239.9 581.3" fill="none" stroke="#ffffff" stroke-width="1.1" stroke-linecap="round" stroke-linejoin="round"/>
<rect x="244.1" y="579.1" width="14.6" height="5.6" fill="#fdf7f5" stroke="#ecd6d2" stroke-width="0.5" rx="2.8"/><rect x="245.1" y="580.1" width="12.6" height="3.6" fill="#fdf7f5" rx="1.8"/><path d="M246 582.35 Q246.77 579.21 247.54 581.9 Q248.31 584.59 249.09 581.9 Q249.86 579.21 250.63 581.9 Q251.4 584.59 252.17 581.9 Q252.94 579.21 253.71 581.9 Q254.49 584.59 255.26 581.9 Q256.03 579.21 256.8 581.9" fill="none" stroke="#dcb0a9" stroke-width="1.1" stroke-linecap="round" stroke-linejoin="round"/>
<rect x="261.6" y="579.1" width="14" height="5.6" fill="#fdf7f5" stroke="#ecd6d2" stroke-width="0.5" rx="2.8"/><rect x="262.6" y="580.1" width="12" height="3.6" fill="#fdf7f5" rx="1.8"/><path d="M263.5 582.35 Q264.23 579.21 264.96 581.9 Q265.69 584.59 266.41 581.9 Q267.14 579.21 267.87 581.9 Q268.6 584.59 269.33 581.9 Q270.06 579.21 270.79 581.9 Q271.51 584.59 272.24 581.9 Q272.97 579.21 273.7 581.9" fill="none" stroke="#dcb0a9" stroke-width="1.08" stroke-linecap="round" stroke-linejoin="round"/>
<rect x="194.2" y="568.5" width="19.3" height="11.8" fill="#6a2f9e" stroke="#b58fdb" stroke-width="0.6" rx="1.4"/>
<text x="203.8" y="577.2" font-size="7.6" text-anchor="middle" fill="#fff" textLength="15.8" lengthAdjust="spacingAndGlyphs">CTSL</text>
<path d="M215.2 574.9 L228.4 574.9" fill="none" stroke="#f3a3a3" stroke-width="1"/>
<path d="M227.4 573.0 L231.0 574.9 L227.4 576.8 Z" fill="#f3a3a3"/>
<rect x="231.2" y="568.9" width="23" height="11.1" fill="#7b5f14" stroke="#b89a3a" stroke-width="0.7" rx="1.4"/>
<text x="242.8" y="577.2" font-size="7.4" text-anchor="middle" fill="#fff" textLength="19.2" lengthAdjust="spacingAndGlyphs">BNIP3</text>
<rect x="258.4" y="566.1" width="19.8" height="7.8" fill="#8d9ddc" stroke="#c3cdf0" stroke-width="0.6" rx="3.9"/>
<text x="268.3" y="571.8" font-size="5.2" text-anchor="middle" fill="#fff" textLength="11.6" lengthAdjust="spacingAndGlyphs">Gzma</text>
<rect x="255.7" y="573.7" width="19.8" height="7.8" fill="#8d9ddc" stroke="#c3cdf0" stroke-width="0.6" rx="3.9"/>
<text x="265.6" y="579.4" font-size="5.2" text-anchor="middle" fill="#fff" textLength="11.6" lengthAdjust="spacingAndGlyphs">Gzma</text>
<rect x="270.8" y="572.1" width="19.8" height="7.8" fill="#8d9ddc" stroke="#c3cdf0" stroke-width="0.6" rx="3.9"/>
<text x="280.7" y="577.8" font-size="5.2" text-anchor="middle" fill="#fff" textLength="11.6" lengthAdjust="spacingAndGlyphs">Gzma</text>
<rect x="211" y="589.5" width="71.9" height="18.2" fill="#3c5283"/>
<text x="228.9" y="596.9" font-size="7.6" fill="#fff" textLength="5.7" lengthAdjust="spacingAndGlyphs">↑↑</text>
<text x="236.5" y="597.2" font-size="5.4" fill="#fff" textLength="28.7" lengthAdjust="spacingAndGlyphs">CD49a<tspan font-size="3.4" dy="-1.8">+</tspan><tspan dy="1.8"> CD8</tspan><tspan font-size="3.4" dy="-1.8">+</tspan></text>
<text x="216.8" y="604.3" font-size="7.6" fill="#fff" textLength="5.9" lengthAdjust="spacingAndGlyphs">↑↑</text>
<text x="224.8" y="604.4" font-size="5.4" fill="#fff" textLength="52.2" lengthAdjust="spacingAndGlyphs">Mitochondrial dysfunction</text>
<text x="235.5" y="615.8" font-size="6" textLength="26.9" lengthAdjust="spacingAndGlyphs">ICI therapy</text>
<path d="M305.3 544.6 L401 544.6 A6.9 20.15 0 0 1 401 584.9 L305.3 584.9 A6.9 20.15 0 0 1 305.3 544.6 Z" fill="#cf2a33"/><g fill="none" stroke="#a81c27" stroke-width="0.5"><path d="M313.5 544.9 A3.45 20.15 0 0 1 313.5 584.6"/><path d="M319.27 544.9 A3.45 20.15 0 0 1 319.27 584.6"/><path d="M325.03 544.9 A3.45 20.15 0 0 1 325.03 584.6"/><path d="M330.8 544.9 A3.45 20.15 0 0 1 330.8 584.6"/><path d="M336.57 544.9 A3.45 20.15 0 0 1 336.57 584.6"/><path d="M342.33 544.9 A3.45 20.15 0 0 1 342.33 584.6"/><path d="M348.1 544.9 A3.45 20.15 0 0 1 348.1 584.6"/><path d="M353.87 544.9 A3.45 20.15 0 0 1 353.87 584.6"/><path d="M359.63 544.9 A3.45 20.15 0 0 1 359.63 584.6"/><path d="M365.4 544.9 A3.45 20.15 0 0 1 365.4 584.6"/><path d="M371.17 544.9 A3.45 20.15 0 0 1 371.17 584.6"/><path d="M376.93 544.9 A3.45 20.15 0 0 1 376.93 584.6"/><path d="M382.7 544.9 A3.45 20.15 0 0 1 382.7 584.6"/><path d="M388.47 544.9 A3.45 20.15 0 0 1 388.47 584.6"/><path d="M394.23 544.9 A3.45 20.15 0 0 1 394.23 584.6"/><path d="M400 544.9 A3.45 20.15 0 0 1 400 584.6"/></g><ellipse cx="305.3" cy="564.75" rx="6.9" ry="20.15" fill="#e4838a"/><ellipse cx="305.3" cy="564.75" rx="6.9" ry="20.15" fill="none" stroke="#d9505b" stroke-width="0.4"/>
<rect x="351.05" y="535.1" width="1.1" height="4.93" fill="#3f72c4"/><rect x="352.65" y="535.1" width="1.1" height="4.93" fill="#3f72c4"/><rect x="350.5" y="540.03" width="1.65" height="8.77" fill="#f4b21c"/><rect x="352.65" y="540.03" width="1.65" height="8.77" fill="#f4b21c"/><circle cx="351.7" cy="530.5" r="5.29" fill="#b99bdc"/><circle cx="352.7" cy="530.5" r="5.02" fill="#9a68c9"/>
<rect x="343" y="550.9" width="15" height="7.2" fill="#47a238" stroke="#3c9a2e" stroke-width="0.5" rx="3.6"/><rect x="344" y="551.9" width="13" height="5.2" fill="#86c47c" rx="2.6"/><path d="M344.9 555.08 Q345.7 551.04 346.5 554.5 Q347.3 557.96 348.1 554.5 Q348.9 551.04 349.7 554.5 Q350.5 557.96 351.3 554.5 Q352.1 551.04 352.9 554.5 Q353.7 557.96 354.5 554.5 Q355.3 551.04 356.1 554.5" fill="none" stroke="#ffffff" stroke-width="1.11" stroke-linecap="round" stroke-linejoin="round"/>
<rect x="362.1" y="550.9" width="15" height="7.2" fill="#47a238" stroke="#3c9a2e" stroke-width="0.5" rx="3.6"/><rect x="363.1" y="551.9" width="13" height="5.2" fill="#86c47c" rx="2.6"/><path d="M364 555.08 Q364.8 551.04 365.6 554.5 Q366.4 557.96 367.2 554.5 Q368 551.04 368.8 554.5 Q369.6 557.96 370.4 554.5 Q371.2 551.04 372 554.5 Q372.8 557.96 373.6 554.5 Q374.4 551.04 375.2 554.5" fill="none" stroke="#ffffff" stroke-width="1.11" stroke-linecap="round" stroke-linejoin="round"/>
<rect x="335.2" y="561" width="15" height="7.2" fill="#47a238" stroke="#3c9a2e" stroke-width="0.5" rx="3.6"/><rect x="336.2" y="562" width="13" height="5.2" fill="#86c47c" rx="2.6"/><path d="M337.1 565.18 Q337.9 561.14 338.7 564.6 Q339.5 568.06 340.3 564.6 Q341.1 561.14 341.9 564.6 Q342.7 568.06 343.5 564.6 Q344.3 561.14 345.1 564.6 Q345.9 568.06 346.7 564.6 Q347.5 561.14 348.3 564.6" fill="none" stroke="#ffffff" stroke-width="1.11" stroke-linecap="round" stroke-linejoin="round"/>
<rect x="353.2" y="561" width="15" height="7.2" fill="#47a238" stroke="#3c9a2e" stroke-width="0.5" rx="3.6"/><rect x="354.2" y="562" width="13" height="5.2" fill="#86c47c" rx="2.6"/><path d="M355.1 565.18 Q355.9 561.14 356.7 564.6 Q357.5 568.06 358.3 564.6 Q359.1 561.14 359.9 564.6 Q360.7 568.06 361.5 564.6 Q362.3 561.14 363.1 564.6 Q363.9 568.06 364.7 564.6 Q365.5 561.14 366.3 564.6" fill="none" stroke="#ffffff" stroke-width="1.11" stroke-linecap="round" stroke-linejoin="round"/>
<rect x="371.3" y="561" width="15" height="7.2" fill="#47a238" stroke="#3c9a2e" stroke-width="0.5" rx="3.6"/><rect x="372.3" y="562" width="13" height="5.2" fill="#86c47c" rx="2.6"/><path d="M373.2 565.18 Q374 561.14 374.8 564.6 Q375.6 568.06 376.4 564.6 Q377.2 561.14 378 564.6 Q378.8 568.06 379.6 564.6 Q380.4 561.14 381.2 564.6 Q382 568.06 382.8 564.6 Q383.6 561.14 384.4 564.6" fill="none" stroke="#ffffff" stroke-width="1.11" stroke-linecap="round" stroke-linejoin="round"/>
<rect x="347.7" y="570.8" width="15" height="7.2" fill="#47a238" stroke="#3c9a2e" stroke-width="0.5" rx="3.6"/><rect x="348.7" y="571.8" width="13" height="5.2" fill="#86c47c" rx="2.6"/><path d="M349.6 574.98 Q350.4 570.94 351.2 574.4 Q352 577.86 352.8 574.4 Q353.6 570.94 354.4 574.4 Q355.2 577.86 356 574.4 Q356.8 570.94 357.6 574.4 Q358.4 577.86 359.2 574.4 Q360 570.94 360.8 574.4" fill="none" stroke="#ffffff" stroke-width="1.11" stroke-linecap="round" stroke-linejoin="round"/>
<rect x="365.2" y="570.8" width="15" height="7.2" fill="#47a238" stroke="#3c9a2e" stroke-width="0.5" rx="3.6"/><rect x="366.2" y="571.8" width="13" height="5.2" fill="#86c47c" rx="2.6"/><path d="M367.1 574.98 Q367.9 570.94 368.7 574.4 Q369.5 577.86 370.3 574.4 Q371.1 570.94 371.9 574.4 Q372.7 577.86 373.5 574.4 Q374.3 570.94 375.1 574.4 Q375.9 577.86 376.7 574.4 Q377.5 570.94 378.3 574.4" fill="none" stroke="#ffffff" stroke-width="1.11" stroke-linecap="round" stroke-linejoin="round"/>
<rect x="304.9" y="556.5" width="12.8" height="5.1" fill="#9a3a9e" stroke="#dcb6e6" stroke-width="0.5"/>
<text x="311.3" y="560" font-size="2.6" text-anchor="middle" fill="#fff" textLength="5" lengthAdjust="spacingAndGlyphs">CTSL</text>
<rect x="319.9" y="567" width="12.7" height="5.4" fill="#a64a1e" stroke="#e8b890" stroke-width="0.5"/>
<text x="326.3" y="570.7" font-size="2.6" text-anchor="middle" fill="#fff" textLength="6.4" lengthAdjust="spacingAndGlyphs">BNIP3</text>
<rect x="321.3" y="589.6" width="66.3" height="18" fill="#5a7a3e"/>
<text x="337.6" y="596.9" font-size="7.6" fill="#fff" textLength="2.7" lengthAdjust="spacingAndGlyphs">↓</text>
<text x="342.4" y="597.2" font-size="5.4" fill="#fff" textLength="29.4" lengthAdjust="spacingAndGlyphs">CD49a<tspan font-size="3.4" dy="-1.8">+</tspan><tspan dy="1.8"> CD8</tspan><tspan font-size="3.4" dy="-1.8">+</tspan></text>
<text x="326" y="604.3" font-size="5.4" fill="#fff" textLength="56.9" lengthAdjust="spacingAndGlyphs">Mitochondrial homeostasis</text>
<text x="330.2" y="615.8" font-size="6" textLength="48.6" lengthAdjust="spacingAndGlyphs">ICI + CTSLi therapy</text>
</g>
</svg>
</body></html>
